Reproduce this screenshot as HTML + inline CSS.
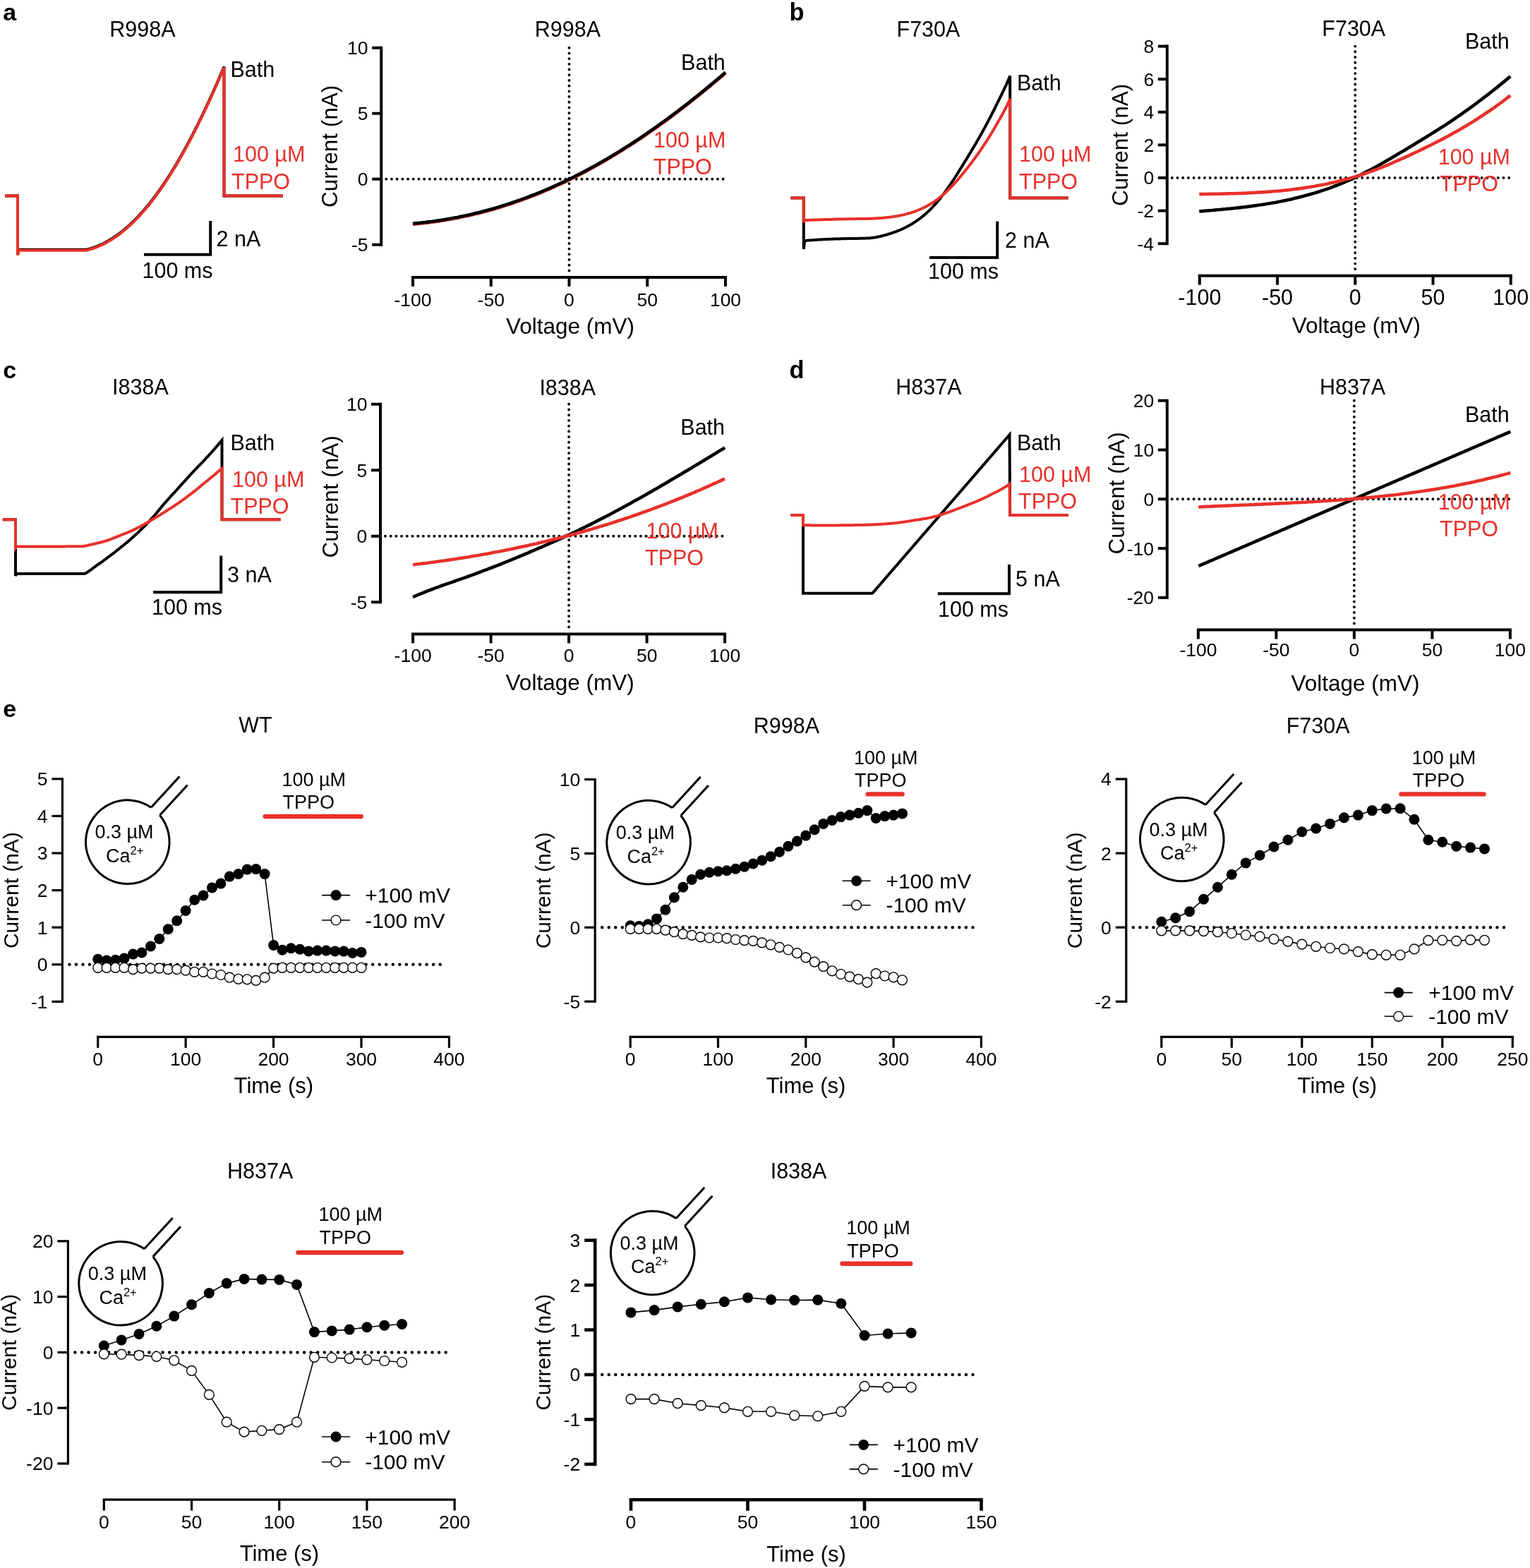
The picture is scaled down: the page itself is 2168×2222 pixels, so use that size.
<!DOCTYPE html>
<html><head><meta charset="utf-8"><title>Figure</title>
<style>html,body{margin:0;padding:0;background:#fff;overflow:hidden;width:2168px;height:2222px;} svg{display:block;}</style></head>
<body><svg width="2168" height="2222" viewBox="0 0 2168 2222" font-family="'Liberation Sans', Arial, Helvetica, sans-serif">
<rect width="2168" height="2222" fill="#fff"/>
<text x="4.2" y="29.2" font-size="34" font-weight="bold">a</text>
<text x="1118.5" y="29.2" font-size="34.5" font-weight="bold">b</text>
<text x="4.2" y="536.2" font-size="34" font-weight="bold">c</text>
<text x="1118.5" y="536.2" font-size="34.5" font-weight="bold">d</text>
<text x="4.2" y="1015.9" font-size="34" font-weight="bold">e</text>
<line x1="547.25" y1="253.75" x2="1027.00" y2="253.75" stroke="#000" stroke-width="3.9" stroke-linecap="round" stroke-dasharray="0 7.7"/>
<line x1="806.50" y1="67.75" x2="806.50" y2="389.00" stroke="#000" stroke-width="3.9" stroke-linecap="round" stroke-dasharray="0 7.7"/>
<line x1="540.25" y1="65.75" x2="540.25" y2="348.75" stroke="#000" stroke-width="4.0" stroke-linecap="butt"/>
<line x1="527.25" y1="67.75" x2="540.25" y2="67.75" stroke="#000" stroke-width="4.0" stroke-linecap="butt"/>
<text x="492.1" y="77.2" font-size="26.5">10</text>
<line x1="527.25" y1="160.75" x2="540.25" y2="160.75" stroke="#000" stroke-width="4.0" stroke-linecap="butt"/>
<text x="506.8" y="170.2" font-size="26.5">5</text>
<line x1="527.25" y1="253.75" x2="540.25" y2="253.75" stroke="#000" stroke-width="4.0" stroke-linecap="butt"/>
<text x="506.8" y="263.1" font-size="26.5">0</text>
<line x1="527.25" y1="346.75" x2="540.25" y2="346.75" stroke="#000" stroke-width="4.0" stroke-linecap="butt"/>
<text x="498.0" y="356.1" font-size="26.5">-5</text>
<line x1="583.00" y1="393.00" x2="1030.00" y2="393.00" stroke="#000" stroke-width="4.0" stroke-linecap="butt"/>
<line x1="585.00" y1="393.00" x2="585.00" y2="406.00" stroke="#000" stroke-width="4.0" stroke-linecap="butt"/>
<text x="558.5" y="434.0" font-size="26.5">-100</text>
<line x1="695.75" y1="393.00" x2="695.75" y2="406.00" stroke="#000" stroke-width="4.0" stroke-linecap="butt"/>
<text x="676.6" y="434.0" font-size="26.5">-50</text>
<line x1="806.50" y1="393.00" x2="806.50" y2="406.00" stroke="#000" stroke-width="4.0" stroke-linecap="butt"/>
<text x="799.1" y="434.0" font-size="26.5">0</text>
<line x1="917.25" y1="393.00" x2="917.25" y2="406.00" stroke="#000" stroke-width="4.0" stroke-linecap="butt"/>
<text x="902.5" y="434.0" font-size="26.5">50</text>
<line x1="1028.00" y1="393.00" x2="1028.00" y2="406.00" stroke="#000" stroke-width="4.0" stroke-linecap="butt"/>
<text x="1005.9" y="434.0" font-size="26.5">100</text>
<text x="717.0" y="472.5" font-size="31.5">Voltage (mV)</text>
<text transform="translate(477.6,207.5) rotate(-90)" x="-86.6" y="0" font-size="31.5">Current (nA)</text>
<text x="757.8" y="52.2" font-size="30.5">R998A</text>
<polyline points="585.0,317.6 588.7,317.2 592.4,316.9 596.2,316.5 599.9,316.1 603.6,315.7 607.3,315.2 611.1,314.8 614.8,314.3 618.5,313.7 622.2,313.2 625.9,312.6 629.7,312.0 633.4,311.4 637.1,310.7 640.8,310.1 644.6,309.4 648.3,308.7 652.0,307.9 655.7,307.1 659.5,306.4 663.2,305.5 666.9,304.7 670.6,303.8 674.3,302.9 678.1,302.0 681.8,301.1 685.5,300.1 689.2,299.1 693.0,298.1 696.7,297.0 700.4,296.0 704.1,294.9 707.8,293.8 711.6,292.6 715.3,291.4 719.0,290.2 722.7,289.0 726.5,287.8 730.2,286.5 733.9,285.2 737.6,283.9 741.4,282.5 745.1,281.2 748.8,279.8 752.5,278.3 756.2,276.9 760.0,275.4 763.7,273.9 767.4,272.4 771.1,270.8 774.9,269.2 778.6,267.6 782.3,266.0 786.0,264.3 789.7,262.6 793.5,260.9 797.2,259.2 800.9,257.4 804.6,255.6 808.4,253.8 812.1,252.0 815.8,250.1 819.5,248.2 823.3,246.3 827.0,244.3 830.7,242.4 834.4,240.4 838.1,238.3 841.9,236.3 845.6,234.2 849.3,232.1 853.0,230.0 856.8,227.8 860.5,225.7 864.2,223.5 867.9,221.2 871.6,219.0 875.4,216.7 879.1,214.4 882.8,212.1 886.5,209.7 890.3,207.4 894.0,205.0 897.7,202.6 901.4,200.1 905.2,197.6 908.9,195.1 912.6,192.6 916.3,190.1 920.0,187.5 923.8,184.9 927.5,182.3 931.2,179.7 934.9,177.0 938.7,174.3 942.4,171.6 946.1,168.9 949.8,166.2 953.5,163.4 957.3,160.6 961.0,157.8 964.7,154.9 968.4,152.1 972.2,149.2 975.9,146.3 979.6,143.3 983.3,140.4 987.1,137.4 990.8,134.4 994.5,131.4 998.2,128.4 1001.9,125.3 1005.7,122.2 1009.4,119.1 1013.1,116.0 1016.8,112.8 1020.6,109.7 1024.3,106.5 1028.0,103.3" fill="none" stroke="#e8302a" stroke-width="5.0" stroke-linejoin="round"/>
<polyline points="585.0,316.8 588.7,316.4 592.4,316.1 596.2,315.7 599.9,315.3 603.6,314.9 607.3,314.4 611.1,314.0 614.8,313.5 618.5,312.9 622.2,312.4 625.9,311.8 629.7,311.2 633.4,310.6 637.1,309.9 640.8,309.3 644.6,308.6 648.3,307.9 652.0,307.1 655.7,306.3 659.5,305.6 663.2,304.7 666.9,303.9 670.6,303.0 674.3,302.1 678.1,301.2 681.8,300.3 685.5,299.3 689.2,298.3 693.0,297.3 696.7,296.2 700.4,295.2 704.1,294.1 707.8,293.0 711.6,291.8 715.3,290.6 719.0,289.4 722.7,288.2 726.5,287.0 730.2,285.7 733.9,284.4 737.6,283.1 741.4,281.7 745.1,280.4 748.8,279.0 752.5,277.5 756.2,276.1 760.0,274.6 763.7,273.1 767.4,271.6 771.1,270.0 774.9,268.4 778.6,266.8 782.3,265.2 786.0,263.5 789.7,261.8 793.5,260.1 797.2,258.4 800.9,256.6 804.6,254.8 808.4,253.0 812.1,251.2 815.8,249.3 819.5,247.4 823.3,245.5 827.0,243.5 830.7,241.6 834.4,239.6 838.1,237.5 841.9,235.5 845.6,233.4 849.3,231.3 853.0,229.2 856.8,227.0 860.5,224.9 864.2,222.7 867.9,220.4 871.6,218.2 875.4,215.9 879.1,213.6 882.8,211.3 886.5,208.9 890.3,206.6 894.0,204.2 897.7,201.8 901.4,199.3 905.2,196.8 908.9,194.3 912.6,191.8 916.3,189.3 920.0,186.7 923.8,184.1 927.5,181.5 931.2,178.9 934.9,176.2 938.7,173.5 942.4,170.8 946.1,168.1 949.8,165.4 953.5,162.6 957.3,159.8 961.0,157.0 964.7,154.1 968.4,151.3 972.2,148.4 975.9,145.5 979.6,142.5 983.3,139.6 987.1,136.6 990.8,133.6 994.5,130.6 998.2,127.6 1001.9,124.5 1005.7,121.4 1009.4,118.3 1013.1,115.2 1016.8,112.0 1020.6,108.9 1024.3,105.7 1028.0,102.5" fill="none" stroke="#000" stroke-width="4.6" stroke-linejoin="round"/>
<text x="965.1" y="99.3" font-size="30.5">Bath</text>
<text x="926.0" y="208.6" font-size="30.5" fill="#e8302a">100 µM</text>
<text x="925.8" y="247.0" font-size="30.5" fill="#e8302a">TPPO</text>
<text x="155.3" y="52.2" font-size="30.5">R998A</text>
<polyline points="7.0,277.5 25.0,277.5 25.0,360.8 26.5,353.8 27.5,353.8 28.5,353.8 29.5,353.8 30.5,353.8 31.5,353.8 32.5,353.8 33.5,353.8 34.5,353.8 35.5,353.8 36.5,353.8 37.5,353.8 38.5,353.8 39.5,353.8 40.5,353.8 41.5,353.8 42.5,353.8 43.5,353.8 44.5,353.8 45.5,353.8 46.5,353.8 47.5,353.8 48.5,353.8 49.5,353.8 50.5,353.8 51.5,353.8 52.5,353.8 53.5,353.8 54.5,353.8 55.5,353.8 56.5,353.8 57.5,353.8 58.5,353.8 59.5,353.8 60.5,353.8 61.5,353.8 62.5,353.8 63.5,353.8 64.5,353.8 65.5,353.8 66.5,353.8 67.5,353.8 68.5,353.8 69.5,353.8 70.5,353.8 71.5,353.8 72.5,353.8 73.5,353.8 74.5,353.8 75.5,353.8 76.5,353.8 77.5,353.8 78.5,353.8 79.5,353.8 80.5,353.8 81.5,353.8 82.5,353.8 83.5,353.8 84.5,353.8 85.5,353.8 86.5,353.8 87.5,353.8 88.5,353.8 89.5,353.8 90.5,353.8 91.5,353.8 92.5,353.8 93.5,353.8 94.5,353.8 95.5,353.8 96.5,353.8 97.5,353.8 98.5,353.8 99.5,353.8 100.5,353.8 101.5,353.8 102.5,353.8 103.5,353.8 104.5,353.8 105.5,353.8 106.5,353.8 107.5,353.8 108.5,353.8 109.5,353.8 110.5,353.8 111.5,353.8 112.5,353.8 113.5,353.8 114.5,353.8 115.5,353.8 116.5,353.8 117.5,353.8 118.5,353.8 119.5,353.8 120.5,353.8 121.5,353.8 122.5,353.8 123.5,353.5 124.5,353.3 125.5,353.0 126.5,352.7 127.5,352.4 128.5,352.2 129.5,351.8 130.5,351.5 131.5,351.2 132.5,350.9 133.5,350.5 134.5,350.2 135.5,349.8 136.5,349.4 137.5,349.0 138.5,348.6 139.5,348.2 140.5,347.8 141.5,347.3 142.5,346.9 143.5,346.4 144.5,346.0 145.5,345.5 146.5,345.0 147.5,344.5 148.5,344.0 149.5,343.4 150.5,342.9 151.5,342.4 152.5,341.8 153.5,341.2 154.5,340.6 155.5,340.0 156.5,339.4 157.5,338.8 158.5,338.2 159.5,337.6 160.5,336.9 161.5,336.3 162.5,335.6 163.5,334.9 164.5,334.2 165.5,333.5 166.5,332.8 167.5,332.1 168.5,331.3 169.5,330.6 170.5,329.8 171.5,329.0 172.5,328.3 173.5,327.5 174.5,326.6 175.5,325.8 176.5,325.0 177.5,324.2 178.5,323.3 179.5,322.4 180.5,321.6 181.5,320.7 182.5,319.8 183.5,318.9 184.5,318.0 185.5,317.0 186.5,316.1 187.5,315.1 188.5,314.1 189.5,313.2 190.5,312.2 191.5,311.2 192.5,310.2 193.5,309.1 194.5,308.1 195.5,307.1 196.5,306.0 197.5,304.9 198.5,303.8 199.5,302.7 200.5,301.6 201.5,300.5 202.5,299.4 203.5,298.2 204.5,297.1 205.5,295.9 206.5,294.7 207.5,293.6 208.5,292.4 209.5,291.1 210.5,289.9 211.5,288.7 212.5,287.4 213.5,286.2 214.5,284.9 215.5,283.6 216.5,282.3 217.5,281.0 218.5,279.7 219.5,278.4 220.5,277.0 221.5,275.7 222.5,274.3 223.5,272.9 224.5,271.5 225.5,270.1 226.5,268.7 227.5,267.3 228.5,265.9 229.5,264.4 230.5,263.0 231.5,261.5 232.5,260.0 233.5,258.5 234.5,257.0 235.5,255.5 236.5,254.0 237.5,252.4 238.5,250.9 239.5,249.3 240.5,247.8 241.5,246.2 242.5,244.6 243.5,243.0 244.5,241.3 245.5,239.7 246.5,238.1 247.5,236.4 248.5,234.8 249.5,233.1 250.5,231.4 251.5,229.7 252.5,228.0 253.5,226.3 254.5,224.6 255.5,222.8 256.5,221.1 257.5,219.3 258.5,217.5 259.5,215.7 260.5,213.9 261.5,212.1 262.5,210.3 263.5,208.5 264.5,206.7 265.5,204.8 266.5,202.9 267.5,201.1 268.5,199.2 269.5,197.3 270.5,195.4 271.5,193.5 272.5,191.6 273.5,189.6 274.5,187.7 275.5,185.7 276.5,183.8 277.5,181.8 278.5,179.8 279.5,177.8 280.5,175.8 281.5,173.8 282.5,171.8 283.5,169.7 284.5,167.7 285.5,165.6 286.5,163.5 287.5,161.5 288.5,159.4 289.5,157.3 290.5,155.2 291.5,153.0 292.5,150.9 293.5,148.8 294.5,146.6 295.5,144.5 296.5,142.3 297.5,140.1 298.5,137.9 299.5,135.7 300.5,133.5 301.5,131.3 302.5,129.1 303.5,126.8 304.5,124.6 305.5,122.3 306.5,120.0 307.5,117.8 308.5,115.5 309.5,113.2 310.5,110.9 311.5,108.6 312.5,106.2 313.5,103.9 314.5,101.6 315.5,99.2 316.5,96.8 317.5,94.5 317.5,277.5 401.0,277.5" fill="none" stroke="#000" stroke-width="4.0" stroke-linejoin="miter"/>
<polyline points="7.0,277.5 25.0,277.5 25.0,361.7 26.5,354.7 27.5,354.7 28.5,354.7 29.5,354.7 30.5,354.7 31.5,354.7 32.5,354.7 33.5,354.7 34.5,354.7 35.5,354.7 36.5,354.7 37.5,354.7 38.5,354.7 39.5,354.7 40.5,354.7 41.5,354.7 42.5,354.7 43.5,354.7 44.5,354.7 45.5,354.7 46.5,354.7 47.5,354.7 48.5,354.7 49.5,354.7 50.5,354.7 51.5,354.7 52.5,354.7 53.5,354.7 54.5,354.7 55.5,354.7 56.5,354.7 57.5,354.7 58.5,354.7 59.5,354.7 60.5,354.7 61.5,354.7 62.5,354.7 63.5,354.7 64.5,354.7 65.5,354.7 66.5,354.7 67.5,354.7 68.5,354.7 69.5,354.7 70.5,354.7 71.5,354.7 72.5,354.7 73.5,354.7 74.5,354.7 75.5,354.7 76.5,354.7 77.5,354.7 78.5,354.7 79.5,354.7 80.5,354.7 81.5,354.7 82.5,354.7 83.5,354.7 84.5,354.7 85.5,354.7 86.5,354.7 87.5,354.7 88.5,354.7 89.5,354.7 90.5,354.7 91.5,354.7 92.5,354.7 93.5,354.7 94.5,354.7 95.5,354.7 96.5,354.7 97.5,354.7 98.5,354.7 99.5,354.7 100.5,354.7 101.5,354.7 102.5,354.7 103.5,354.7 104.5,354.7 105.5,354.7 106.5,354.7 107.5,354.7 108.5,354.7 109.5,354.7 110.5,354.7 111.5,354.7 112.5,354.7 113.5,354.7 114.5,354.7 115.5,354.7 116.5,354.7 117.5,354.7 118.5,354.7 119.5,354.7 120.5,354.7 121.5,354.7 122.5,354.7 123.5,354.5 124.5,354.2 125.5,354.0 126.5,353.7 127.5,353.4 128.5,353.1 129.5,352.8 130.5,352.5 131.5,352.2 132.5,351.8 133.5,351.5 134.5,351.1 135.5,350.8 136.5,350.4 137.5,350.0 138.5,349.6 139.5,349.2 140.5,348.7 141.5,348.3 142.5,347.9 143.5,347.4 144.5,346.9 145.5,346.4 146.5,345.9 147.5,345.4 148.5,344.9 149.5,344.4 150.5,343.9 151.5,343.3 152.5,342.8 153.5,342.2 154.5,341.6 155.5,341.0 156.5,340.4 157.5,339.8 158.5,339.2 159.5,338.5 160.5,337.9 161.5,337.2 162.5,336.6 163.5,335.9 164.5,335.2 165.5,334.5 166.5,333.8 167.5,333.0 168.5,332.3 169.5,331.5 170.5,330.8 171.5,330.0 172.5,329.2 173.5,328.4 174.5,327.6 175.5,326.8 176.5,326.0 177.5,325.1 178.5,324.3 179.5,323.4 180.5,322.5 181.5,321.6 182.5,320.7 183.5,319.8 184.5,318.9 185.5,318.0 186.5,317.0 187.5,316.1 188.5,315.1 189.5,314.1 190.5,313.1 191.5,312.1 192.5,311.1 193.5,310.1 194.5,309.1 195.5,308.0 196.5,307.0 197.5,305.9 198.5,304.8 199.5,303.7 200.5,302.6 201.5,301.5 202.5,300.4 203.5,299.2 204.5,298.1 205.5,296.9 206.5,295.7 207.5,294.5 208.5,293.3 209.5,292.1 210.5,290.9 211.5,289.6 212.5,288.4 213.5,287.1 214.5,285.9 215.5,284.6 216.5,283.3 217.5,282.0 218.5,280.7 219.5,279.3 220.5,278.0 221.5,276.6 222.5,275.3 223.5,273.9 224.5,272.5 225.5,271.1 226.5,269.7 227.5,268.3 228.5,266.8 229.5,265.4 230.5,263.9 231.5,262.5 232.5,261.0 233.5,259.5 234.5,258.0 235.5,256.5 236.5,254.9 237.5,253.4 238.5,251.9 239.5,250.3 240.5,248.7 241.5,247.1 242.5,245.5 243.5,243.9 244.5,242.3 245.5,240.7 246.5,239.0 247.5,237.4 248.5,235.7 249.5,234.1 250.5,232.4 251.5,230.7 252.5,229.0 253.5,227.3 254.5,225.5 255.5,223.8 256.5,222.0 257.5,220.3 258.5,218.5 259.5,216.7 260.5,214.9 261.5,213.1 262.5,211.3 263.5,209.5 264.5,207.6 265.5,205.8 266.5,203.9 267.5,202.0 268.5,200.2 269.5,198.3 270.5,196.4 271.5,194.5 272.5,192.5 273.5,190.6 274.5,188.7 275.5,186.7 276.5,184.7 277.5,182.8 278.5,180.8 279.5,178.8 280.5,176.8 281.5,174.7 282.5,172.7 283.5,170.7 284.5,168.6 285.5,166.6 286.5,164.5 287.5,162.4 288.5,160.3 289.5,158.2 290.5,156.1 291.5,154.0 292.5,151.9 293.5,149.7 294.5,147.6 295.5,145.4 296.5,143.3 297.5,141.1 298.5,138.9 299.5,136.7 300.5,134.5 301.5,132.3 302.5,130.0 303.5,127.8 304.5,125.5 305.5,123.3 306.5,121.0 307.5,118.7 308.5,116.4 309.5,114.2 310.5,111.8 311.5,109.5 312.5,107.2 313.5,104.9 314.5,102.5 315.5,100.2 316.5,97.8 317.5,95.4 317.5,277.5 401.0,277.5" fill="none" stroke="#e8302a" stroke-width="4.0" stroke-linejoin="miter"/>
<text x="326.5" y="109.0" font-size="30.5">Bath</text>
<text x="330.0" y="229.0" font-size="30.5" fill="#e8302a">100 µM</text>
<text x="328.0" y="267.5" font-size="30.5" fill="#e8302a">TPPO</text>
<polyline points="204.0,360.8 298.2,360.8 298.2,313.0" fill="none" stroke="#000" stroke-width="4.0" stroke-linejoin="miter"/>
<text x="306.5" y="348.8" font-size="30.5">2 nA</text>
<text x="201.5" y="393.8" font-size="30.5">100 ms</text>
<line x1="1660.80" y1="252.00" x2="2139.80" y2="252.00" stroke="#000" stroke-width="3.9" stroke-linecap="round" stroke-dasharray="0 7.7"/>
<line x1="1920.30" y1="65.60" x2="1920.30" y2="386.70" stroke="#000" stroke-width="3.9" stroke-linecap="round" stroke-dasharray="0 7.7"/>
<line x1="1653.80" y1="63.60" x2="1653.80" y2="347.20" stroke="#000" stroke-width="4.0" stroke-linecap="butt"/>
<line x1="1640.80" y1="65.60" x2="1653.80" y2="65.60" stroke="#000" stroke-width="4.0" stroke-linecap="butt"/>
<text x="1620.4" y="75.0" font-size="26.5">8</text>
<line x1="1640.80" y1="112.20" x2="1653.80" y2="112.20" stroke="#000" stroke-width="4.0" stroke-linecap="butt"/>
<text x="1620.4" y="121.6" font-size="26.5">6</text>
<line x1="1640.80" y1="158.80" x2="1653.80" y2="158.80" stroke="#000" stroke-width="4.0" stroke-linecap="butt"/>
<text x="1620.4" y="168.2" font-size="26.5">4</text>
<line x1="1640.80" y1="205.40" x2="1653.80" y2="205.40" stroke="#000" stroke-width="4.0" stroke-linecap="butt"/>
<text x="1620.4" y="214.8" font-size="26.5">2</text>
<line x1="1640.80" y1="252.00" x2="1653.80" y2="252.00" stroke="#000" stroke-width="4.0" stroke-linecap="butt"/>
<text x="1620.4" y="261.4" font-size="26.5">0</text>
<line x1="1640.80" y1="298.60" x2="1653.80" y2="298.60" stroke="#000" stroke-width="4.0" stroke-linecap="butt"/>
<text x="1611.5" y="308.0" font-size="26.5">-2</text>
<line x1="1640.80" y1="345.20" x2="1653.80" y2="345.20" stroke="#000" stroke-width="4.0" stroke-linecap="butt"/>
<text x="1611.5" y="354.6" font-size="26.5">-4</text>
<line x1="1697.80" y1="390.70" x2="2142.80" y2="390.70" stroke="#000" stroke-width="4.0" stroke-linecap="butt"/>
<line x1="1699.80" y1="390.70" x2="1699.80" y2="403.70" stroke="#000" stroke-width="4.0" stroke-linecap="butt"/>
<text x="1669.3" y="432.0" font-size="30.5">-100</text>
<line x1="1810.05" y1="390.70" x2="1810.05" y2="403.70" stroke="#000" stroke-width="4.0" stroke-linecap="butt"/>
<text x="1788.0" y="432.0" font-size="30.5">-50</text>
<line x1="1920.30" y1="390.70" x2="1920.30" y2="403.70" stroke="#000" stroke-width="4.0" stroke-linecap="butt"/>
<text x="1911.8" y="432.0" font-size="30.5">0</text>
<line x1="2030.55" y1="390.70" x2="2030.55" y2="403.70" stroke="#000" stroke-width="4.0" stroke-linecap="butt"/>
<text x="2013.6" y="432.0" font-size="30.5">50</text>
<line x1="2140.80" y1="390.70" x2="2140.80" y2="403.70" stroke="#000" stroke-width="4.0" stroke-linecap="butt"/>
<text x="2115.3" y="432.0" font-size="30.5">100</text>
<text x="1830.8" y="472.0" font-size="31.5">Voltage (mV)</text>
<text transform="translate(1598.4,205.5) rotate(-90)" x="-86.6" y="0" font-size="31.5">Current (nA)</text>
<text x="1873.3" y="51.1" font-size="30.5">F730A</text>
<polyline points="1699.3,299.5 1703.0,299.2 1706.7,298.9 1710.4,298.6 1714.1,298.3 1717.8,298.0 1721.5,297.6 1725.2,297.3 1728.9,297.0 1732.7,296.6 1736.4,296.3 1740.1,295.9 1743.8,295.6 1747.5,295.2 1751.2,294.8 1754.9,294.4 1758.6,293.9 1762.3,293.5 1766.0,293.1 1769.7,292.6 1773.4,292.1 1777.1,291.6 1780.8,291.1 1784.5,290.5 1788.2,290.0 1791.9,289.4 1795.7,288.8 1799.4,288.2 1803.1,287.5 1806.8,286.9 1810.5,286.2 1814.2,285.5 1817.9,284.7 1821.6,284.0 1825.3,283.2 1829.0,282.4 1832.7,281.5 1836.4,280.6 1840.1,279.7 1843.8,278.8 1847.5,277.8 1851.2,276.8 1854.9,275.8 1858.7,274.7 1862.4,273.6 1866.1,272.5 1869.8,271.3 1873.5,270.1 1877.2,268.9 1880.9,267.6 1884.6,266.3 1888.3,264.9 1892.0,263.5 1895.7,262.1 1899.4,260.6 1903.1,259.1 1906.8,257.5 1910.5,255.9 1914.2,254.3 1917.9,252.6 1921.7,250.8 1925.4,249.0 1929.1,247.2 1932.8,245.3 1936.5,243.4 1940.2,241.5 1943.9,239.5 1947.6,237.5 1951.3,235.5 1955.0,233.4 1958.7,231.3 1962.4,229.2 1966.1,227.0 1969.8,224.9 1973.5,222.7 1977.2,220.5 1980.9,218.3 1984.7,216.1 1988.4,213.9 1992.1,211.7 1995.8,209.4 1999.5,207.2 2003.2,205.0 2006.9,202.7 2010.6,200.5 2014.3,198.2 2018.0,196.0 2021.7,193.7 2025.4,191.4 2029.1,189.1 2032.8,186.8 2036.5,184.5 2040.2,182.1 2043.9,179.8 2047.7,177.3 2051.4,174.9 2055.1,172.5 2058.8,170.0 2062.5,167.4 2066.2,164.9 2069.9,162.3 2073.6,159.7 2077.3,157.1 2081.0,154.4 2084.7,151.8 2088.4,149.1 2092.1,146.3 2095.8,143.5 2099.5,140.8 2103.2,137.9 2106.9,135.1 2110.7,132.2 2114.4,129.3 2118.1,126.4 2121.8,123.4 2125.5,120.4 2129.2,117.4 2132.9,114.4 2136.6,111.3 2140.3,108.2" fill="none" stroke="#000" stroke-width="4.6" stroke-linejoin="round"/>
<polyline points="1699.3,275.1 1703.0,275.1 1706.7,275.0 1710.4,275.0 1714.1,274.9 1717.8,274.9 1721.5,274.8 1725.2,274.8 1728.9,274.7 1732.7,274.6 1736.4,274.5 1740.1,274.4 1743.8,274.3 1747.5,274.2 1751.2,274.1 1754.9,274.0 1758.6,273.9 1762.3,273.7 1766.0,273.6 1769.7,273.4 1773.4,273.2 1777.1,273.0 1780.8,272.8 1784.5,272.6 1788.2,272.4 1791.9,272.2 1795.7,271.9 1799.4,271.6 1803.1,271.3 1806.8,271.0 1810.5,270.7 1814.2,270.4 1817.9,270.0 1821.6,269.6 1825.3,269.2 1829.0,268.8 1832.7,268.3 1836.4,267.9 1840.1,267.4 1843.8,266.9 1847.5,266.4 1851.2,265.8 1854.9,265.2 1858.7,264.6 1862.4,264.0 1866.1,263.3 1869.8,262.6 1873.5,261.9 1877.2,261.2 1880.9,260.4 1884.6,259.6 1888.3,258.8 1892.0,258.0 1895.7,257.1 1899.4,256.2 1903.1,255.2 1906.8,254.2 1910.5,253.2 1914.2,252.2 1917.9,251.1 1921.7,250.0 1925.4,248.9 1929.1,247.7 1932.8,246.5 1936.5,245.2 1940.2,243.9 1943.9,242.6 1947.6,241.2 1951.3,239.8 1955.0,238.4 1958.7,236.9 1962.4,235.4 1966.1,233.8 1969.8,232.3 1973.5,230.7 1977.2,229.0 1980.9,227.4 1984.7,225.7 1988.4,224.1 1992.1,222.4 1995.8,220.7 1999.5,218.9 2003.2,217.2 2006.9,215.5 2010.6,213.7 2014.3,211.9 2018.0,210.1 2021.7,208.3 2025.4,206.5 2029.1,204.7 2032.8,202.8 2036.5,200.9 2040.2,199.0 2043.9,197.1 2047.7,195.1 2051.4,193.2 2055.1,191.1 2058.8,189.1 2062.5,187.0 2066.2,184.9 2069.9,182.8 2073.6,180.6 2077.3,178.4 2081.0,176.2 2084.7,173.9 2088.4,171.6 2092.1,169.3 2095.8,166.9 2099.5,164.5 2103.2,162.0 2106.9,159.5 2110.7,157.0 2114.4,154.4 2118.1,151.8 2121.8,149.2 2125.5,146.5 2129.2,143.8 2132.9,141.0 2136.6,138.1 2140.3,135.3" fill="none" stroke="#e8302a" stroke-width="4.6" stroke-linejoin="round"/>
<text x="2076.0" y="69.3" font-size="30.5">Bath</text>
<text x="2037.7" y="232.5" font-size="30.5" fill="#e8302a">100 µM</text>
<text x="2040.0" y="270.5" font-size="30.5" fill="#e8302a">TPPO</text>
<text x="1270.5" y="52.2" font-size="30.5">F730A</text>
<polyline points="1120.5,280.5 1138.8,280.5 1138.8,353.0 1140.2,341.0 1141.2,340.9 1142.2,340.9 1143.2,340.8 1144.2,340.7 1145.2,340.7 1146.2,340.6 1147.2,340.5 1148.2,340.5 1149.2,340.4 1150.2,340.3 1151.2,340.3 1152.2,340.2 1153.2,340.1 1154.2,340.0 1155.2,340.0 1156.2,339.9 1157.2,339.8 1158.2,339.8 1159.2,339.7 1160.2,339.6 1161.2,339.6 1162.2,339.5 1163.2,339.5 1164.2,339.4 1165.2,339.3 1166.2,339.3 1167.2,339.2 1168.2,339.2 1169.2,339.1 1170.2,339.1 1171.2,339.0 1172.2,339.0 1173.2,339.0 1174.2,338.9 1175.2,338.9 1176.2,338.8 1177.2,338.8 1178.2,338.8 1179.2,338.7 1180.2,338.7 1181.2,338.6 1182.2,338.6 1183.2,338.6 1184.2,338.5 1185.2,338.5 1186.2,338.5 1187.2,338.4 1188.2,338.4 1189.2,338.4 1190.2,338.4 1191.2,338.3 1192.2,338.3 1193.2,338.3 1194.2,338.3 1195.2,338.2 1196.2,338.2 1197.2,338.2 1198.2,338.2 1199.2,338.2 1200.2,338.1 1201.2,338.1 1202.2,338.1 1203.2,338.1 1204.2,338.1 1205.2,338.0 1206.2,338.0 1207.2,338.0 1208.2,338.0 1209.2,338.0 1210.2,338.0 1211.2,337.9 1212.2,337.9 1213.2,337.9 1214.2,337.9 1215.2,337.9 1216.2,337.9 1217.2,337.9 1218.2,337.8 1219.2,337.8 1220.2,337.8 1221.2,337.8 1222.2,337.8 1223.2,337.8 1224.2,337.7 1225.2,337.7 1226.2,337.7 1227.2,337.6 1228.2,337.6 1229.2,337.5 1230.2,337.5 1231.2,337.4 1232.2,337.4 1233.2,337.3 1234.2,337.2 1235.2,337.1 1236.2,337.0 1237.2,336.8 1238.2,336.7 1239.2,336.5 1240.2,336.4 1241.2,336.2 1242.2,336.0 1243.2,335.8 1244.2,335.6 1245.2,335.4 1246.2,335.2 1247.2,335.0 1248.2,334.7 1249.2,334.5 1250.2,334.2 1251.2,334.0 1252.2,333.7 1253.2,333.4 1254.2,333.2 1255.2,332.9 1256.2,332.6 1257.2,332.3 1258.2,332.0 1259.2,331.7 1260.2,331.4 1261.2,331.1 1262.2,330.7 1263.2,330.4 1264.2,330.1 1265.2,329.7 1266.2,329.4 1267.2,329.0 1268.2,328.7 1269.2,328.3 1270.2,327.9 1271.2,327.5 1272.2,327.2 1273.2,326.8 1274.2,326.3 1275.2,325.9 1276.2,325.5 1277.2,325.1 1278.2,324.6 1279.2,324.2 1280.2,323.7 1281.2,323.2 1282.2,322.7 1283.2,322.2 1284.2,321.7 1285.2,321.2 1286.2,320.7 1287.2,320.1 1288.2,319.6 1289.2,319.0 1290.2,318.5 1291.2,317.9 1292.2,317.3 1293.2,316.7 1294.2,316.0 1295.2,315.4 1296.2,314.7 1297.2,314.1 1298.2,313.4 1299.2,312.7 1300.2,312.0 1301.2,311.3 1302.2,310.6 1303.2,309.8 1304.2,309.1 1305.2,308.3 1306.2,307.5 1307.2,306.7 1308.2,305.9 1309.2,305.1 1310.2,304.2 1311.2,303.3 1312.2,302.5 1313.2,301.6 1314.2,300.6 1315.2,299.7 1316.2,298.8 1317.2,297.8 1318.2,296.8 1319.2,295.8 1320.2,294.8 1321.2,293.8 1322.2,292.7 1323.2,291.6 1324.2,290.5 1325.2,289.4 1326.2,288.3 1327.2,287.2 1328.2,286.0 1329.2,284.8 1330.2,283.6 1331.2,282.4 1332.2,281.2 1333.2,279.9 1334.2,278.6 1335.2,277.3 1336.2,276.0 1337.2,274.7 1338.2,273.4 1339.2,272.0 1340.2,270.6 1341.2,269.2 1342.2,267.8 1343.2,266.4 1344.2,265.0 1345.2,263.5 1346.2,262.1 1347.2,260.6 1348.2,259.1 1349.2,257.6 1350.2,256.1 1351.2,254.6 1352.2,253.0 1353.2,251.5 1354.2,249.9 1355.2,248.4 1356.2,246.8 1357.2,245.2 1358.2,243.6 1359.2,242.0 1360.2,240.4 1361.2,238.8 1362.2,237.2 1363.2,235.6 1364.2,234.0 1365.2,232.4 1366.2,230.8 1367.2,229.1 1368.2,227.5 1369.2,225.9 1370.2,224.2 1371.2,222.6 1372.2,220.9 1373.2,219.3 1374.2,217.6 1375.2,216.0 1376.2,214.3 1377.2,212.6 1378.2,210.9 1379.2,209.3 1380.2,207.6 1381.2,205.9 1382.2,204.2 1383.2,202.5 1384.2,200.7 1385.2,199.0 1386.2,197.3 1387.2,195.5 1388.2,193.8 1389.2,192.0 1390.2,190.2 1391.2,188.4 1392.2,186.6 1393.2,184.8 1394.2,183.0 1395.2,181.2 1396.2,179.3 1397.2,177.5 1398.2,175.6 1399.2,173.7 1400.2,171.8 1401.2,169.9 1402.2,168.0 1403.2,166.1 1404.2,164.1 1405.2,162.2 1406.2,160.2 1407.2,158.2 1408.2,156.3 1409.2,154.3 1410.2,152.2 1411.2,150.2 1412.2,148.2 1413.2,146.2 1414.2,144.2 1415.2,142.2 1416.2,140.1 1417.2,138.1 1418.2,136.0 1419.2,134.0 1420.2,131.9 1421.2,129.9 1422.2,127.8 1423.2,125.7 1424.2,123.6 1425.2,121.5 1426.2,119.3 1427.2,117.1 1428.2,114.8 1429.2,112.5 1430.2,110.0 1431.2,107.4 1431.2,280.5 1513.8,280.5" fill="none" stroke="#000" stroke-width="4.0" stroke-linejoin="miter"/>
<polyline points="1120.5,280.5 1138.8,280.5 1138.8,315.0 1140.2,312.0 1141.2,312.0 1142.2,312.0 1143.2,312.0 1144.2,311.9 1145.2,311.9 1146.2,311.9 1147.2,311.8 1148.2,311.8 1149.2,311.8 1150.2,311.7 1151.2,311.7 1152.2,311.7 1153.2,311.6 1154.2,311.6 1155.2,311.6 1156.2,311.5 1157.2,311.5 1158.2,311.4 1159.2,311.4 1160.2,311.4 1161.2,311.3 1162.2,311.3 1163.2,311.3 1164.2,311.2 1165.2,311.2 1166.2,311.2 1167.2,311.1 1168.2,311.1 1169.2,311.1 1170.2,311.1 1171.2,311.0 1172.2,311.0 1173.2,311.0 1174.2,310.9 1175.2,310.9 1176.2,310.9 1177.2,310.9 1178.2,310.8 1179.2,310.8 1180.2,310.8 1181.2,310.8 1182.2,310.7 1183.2,310.7 1184.2,310.7 1185.2,310.7 1186.2,310.6 1187.2,310.6 1188.2,310.6 1189.2,310.6 1190.2,310.5 1191.2,310.5 1192.2,310.5 1193.2,310.5 1194.2,310.5 1195.2,310.4 1196.2,310.4 1197.2,310.4 1198.2,310.4 1199.2,310.4 1200.2,310.3 1201.2,310.3 1202.2,310.3 1203.2,310.3 1204.2,310.3 1205.2,310.3 1206.2,310.2 1207.2,310.2 1208.2,310.2 1209.2,310.2 1210.2,310.2 1211.2,310.2 1212.2,310.1 1213.2,310.1 1214.2,310.1 1215.2,310.1 1216.2,310.1 1217.2,310.1 1218.2,310.1 1219.2,310.0 1220.2,310.0 1221.2,310.0 1222.2,310.0 1223.2,310.0 1224.2,310.0 1225.2,310.0 1226.2,309.9 1227.2,309.9 1228.2,309.9 1229.2,309.9 1230.2,309.9 1231.2,309.8 1232.2,309.8 1233.2,309.8 1234.2,309.7 1235.2,309.7 1236.2,309.7 1237.2,309.6 1238.2,309.6 1239.2,309.5 1240.2,309.5 1241.2,309.4 1242.2,309.4 1243.2,309.3 1244.2,309.3 1245.2,309.2 1246.2,309.1 1247.2,309.0 1248.2,309.0 1249.2,308.9 1250.2,308.8 1251.2,308.7 1252.2,308.6 1253.2,308.5 1254.2,308.4 1255.2,308.3 1256.2,308.2 1257.2,308.1 1258.2,308.0 1259.2,307.9 1260.2,307.8 1261.2,307.7 1262.2,307.5 1263.2,307.4 1264.2,307.3 1265.2,307.1 1266.2,307.0 1267.2,306.8 1268.2,306.7 1269.2,306.5 1270.2,306.4 1271.2,306.2 1272.2,306.0 1273.2,305.8 1274.2,305.6 1275.2,305.4 1276.2,305.2 1277.2,305.0 1278.2,304.8 1279.2,304.6 1280.2,304.4 1281.2,304.1 1282.2,303.9 1283.2,303.6 1284.2,303.4 1285.2,303.1 1286.2,302.8 1287.2,302.5 1288.2,302.3 1289.2,302.0 1290.2,301.7 1291.2,301.3 1292.2,301.0 1293.2,300.7 1294.2,300.4 1295.2,300.0 1296.2,299.7 1297.2,299.3 1298.2,298.9 1299.2,298.5 1300.2,298.1 1301.2,297.7 1302.2,297.3 1303.2,296.9 1304.2,296.5 1305.2,296.0 1306.2,295.6 1307.2,295.1 1308.2,294.6 1309.2,294.2 1310.2,293.7 1311.2,293.2 1312.2,292.6 1313.2,292.1 1314.2,291.5 1315.2,291.0 1316.2,290.4 1317.2,289.8 1318.2,289.2 1319.2,288.6 1320.2,288.0 1321.2,287.4 1322.2,286.7 1323.2,286.1 1324.2,285.4 1325.2,284.7 1326.2,284.0 1327.2,283.3 1328.2,282.5 1329.2,281.8 1330.2,281.0 1331.2,280.2 1332.2,279.4 1333.2,278.6 1334.2,277.8 1335.2,277.0 1336.2,276.1 1337.2,275.2 1338.2,274.4 1339.2,273.5 1340.2,272.5 1341.2,271.6 1342.2,270.7 1343.2,269.7 1344.2,268.7 1345.2,267.7 1346.2,266.7 1347.2,265.7 1348.2,264.6 1349.2,263.6 1350.2,262.5 1351.2,261.4 1352.2,260.3 1353.2,259.2 1354.2,258.1 1355.2,257.0 1356.2,255.8 1357.2,254.7 1358.2,253.5 1359.2,252.3 1360.2,251.1 1361.2,249.9 1362.2,248.7 1363.2,247.5 1364.2,246.3 1365.2,245.1 1366.2,243.8 1367.2,242.6 1368.2,241.3 1369.2,240.1 1370.2,238.8 1371.2,237.5 1372.2,236.2 1373.2,234.9 1374.2,233.6 1375.2,232.3 1376.2,231.0 1377.2,229.7 1378.2,228.4 1379.2,227.0 1380.2,225.7 1381.2,224.3 1382.2,223.0 1383.2,221.6 1384.2,220.2 1385.2,218.8 1386.2,217.4 1387.2,216.0 1388.2,214.6 1389.2,213.1 1390.2,211.7 1391.2,210.2 1392.2,208.7 1393.2,207.2 1394.2,205.7 1395.2,204.2 1396.2,202.7 1397.2,201.2 1398.2,199.6 1399.2,198.0 1400.2,196.5 1401.2,194.9 1402.2,193.3 1403.2,191.6 1404.2,190.0 1405.2,188.3 1406.2,186.7 1407.2,185.0 1408.2,183.3 1409.2,181.6 1410.2,179.9 1411.2,178.1 1412.2,176.4 1413.2,174.6 1414.2,172.9 1415.2,171.1 1416.2,169.4 1417.2,167.6 1418.2,165.8 1419.2,164.0 1420.2,162.2 1421.2,160.4 1422.2,158.5 1423.2,156.7 1424.2,154.8 1425.2,152.9 1426.2,150.9 1427.2,148.9 1428.2,146.8 1429.2,144.6 1430.2,142.4 1431.2,140.0 1431.2,280.5 1513.8,280.5" fill="none" stroke="#e8302a" stroke-width="4.0" stroke-linejoin="miter"/>
<text x="1441.0" y="128.0" font-size="30.5">Bath</text>
<text x="1444.0" y="229.0" font-size="30.5" fill="#e8302a">100 µM</text>
<text x="1444.0" y="267.5" font-size="30.5" fill="#e8302a">TPPO</text>
<polyline points="1317.0,365.0 1413.2,365.0 1413.2,313.8" fill="none" stroke="#000" stroke-width="4.0" stroke-linejoin="miter"/>
<text x="1424.0" y="351.0" font-size="30.5">2 nA</text>
<text x="1315.0" y="395.0" font-size="30.5">100 ms</text>
<line x1="546.00" y1="759.80" x2="1026.10" y2="759.80" stroke="#000" stroke-width="3.9" stroke-linecap="round" stroke-dasharray="0 7.7"/>
<line x1="806.10" y1="572.80" x2="806.10" y2="894.50" stroke="#000" stroke-width="3.9" stroke-linecap="round" stroke-dasharray="0 7.7"/>
<line x1="539.00" y1="570.80" x2="539.00" y2="855.30" stroke="#000" stroke-width="4.0" stroke-linecap="butt"/>
<line x1="526.00" y1="572.80" x2="539.00" y2="572.80" stroke="#000" stroke-width="4.0" stroke-linecap="butt"/>
<text x="490.9" y="582.2" font-size="26.5">10</text>
<line x1="526.00" y1="666.30" x2="539.00" y2="666.30" stroke="#000" stroke-width="4.0" stroke-linecap="butt"/>
<text x="505.6" y="675.7" font-size="26.5">5</text>
<line x1="526.00" y1="759.80" x2="539.00" y2="759.80" stroke="#000" stroke-width="4.0" stroke-linecap="butt"/>
<text x="505.6" y="769.2" font-size="26.5">0</text>
<line x1="526.00" y1="853.30" x2="539.00" y2="853.30" stroke="#000" stroke-width="4.0" stroke-linecap="butt"/>
<text x="496.7" y="862.7" font-size="26.5">-5</text>
<line x1="583.10" y1="898.50" x2="1029.10" y2="898.50" stroke="#000" stroke-width="4.0" stroke-linecap="butt"/>
<line x1="585.10" y1="898.50" x2="585.10" y2="911.50" stroke="#000" stroke-width="4.0" stroke-linecap="butt"/>
<text x="558.6" y="938.0" font-size="26.5">-100</text>
<line x1="695.60" y1="898.50" x2="695.60" y2="911.50" stroke="#000" stroke-width="4.0" stroke-linecap="butt"/>
<text x="676.5" y="938.0" font-size="26.5">-50</text>
<line x1="806.10" y1="898.50" x2="806.10" y2="911.50" stroke="#000" stroke-width="4.0" stroke-linecap="butt"/>
<text x="798.7" y="938.0" font-size="26.5">0</text>
<line x1="916.60" y1="898.50" x2="916.60" y2="911.50" stroke="#000" stroke-width="4.0" stroke-linecap="butt"/>
<text x="901.9" y="938.0" font-size="26.5">50</text>
<line x1="1027.10" y1="898.50" x2="1027.10" y2="911.50" stroke="#000" stroke-width="4.0" stroke-linecap="butt"/>
<text x="1005.0" y="938.0" font-size="26.5">100</text>
<text x="716.6" y="977.5" font-size="31.5">Voltage (mV)</text>
<text transform="translate(478.6,703.9) rotate(-90)" x="-86.6" y="0" font-size="31.5">Current (nA)</text>
<text x="764.4" y="559.6" font-size="30.5">I838A</text>
<polyline points="585.1,846.1 588.8,844.5 592.5,842.9 596.2,841.3 600.0,839.8 603.7,838.4 607.4,836.9 611.1,835.5 614.8,834.1 618.5,832.7 622.2,831.4 626.0,830.0 629.7,828.7 633.4,827.4 637.1,826.1 640.8,824.8 644.5,823.5 648.2,822.2 652.0,820.9 655.7,819.6 659.4,818.3 663.1,817.0 666.8,815.6 670.5,814.3 674.2,812.9 678.0,811.5 681.7,810.1 685.4,808.7 689.1,807.3 692.8,805.9 696.5,804.5 700.2,803.0 704.0,801.6 707.7,800.1 711.4,798.6 715.1,797.1 718.8,795.6 722.5,794.1 726.2,792.6 730.0,791.1 733.7,789.5 737.4,788.0 741.1,786.4 744.8,784.8 748.5,783.3 752.2,781.7 756.0,780.1 759.7,778.5 763.4,776.9 767.1,775.3 770.8,773.7 774.5,772.1 778.2,770.4 782.0,768.8 785.7,767.1 789.4,765.5 793.1,763.8 796.8,762.1 800.5,760.4 804.2,758.7 808.0,757.0 811.7,755.2 815.4,753.5 819.1,751.7 822.8,749.9 826.5,748.1 830.2,746.3 834.0,744.4 837.7,742.6 841.4,740.7 845.1,738.8 848.8,736.9 852.5,735.0 856.2,733.1 860.0,731.2 863.7,729.2 867.4,727.2 871.1,725.3 874.8,723.3 878.5,721.3 882.2,719.3 886.0,717.2 889.7,715.2 893.4,713.2 897.1,711.1 900.8,709.0 904.5,707.0 908.2,704.9 912.0,702.8 915.7,700.7 919.4,698.6 923.1,696.4 926.8,694.3 930.5,692.2 934.2,690.0 938.0,687.8 941.7,685.7 945.4,683.5 949.1,681.3 952.8,679.1 956.5,677.0 960.2,674.8 964.0,672.6 967.7,670.3 971.4,668.1 975.1,665.9 978.8,663.7 982.5,661.4 986.2,659.2 990.0,657.0 993.7,654.7 997.4,652.5 1001.1,650.2 1004.8,648.0 1008.5,645.7 1012.2,643.5 1016.0,641.2 1019.7,638.9 1023.4,636.7 1027.1,634.4" fill="none" stroke="#000" stroke-width="4.6" stroke-linejoin="round"/>
<polyline points="585.1,800.2 588.8,799.8 592.5,799.3 596.2,798.9 600.0,798.4 603.7,798.0 607.4,797.5 611.1,797.0 614.8,796.5 618.5,796.0 622.2,795.5 626.0,795.0 629.7,794.5 633.4,793.9 637.1,793.4 640.8,792.8 644.5,792.3 648.2,791.7 652.0,791.1 655.7,790.6 659.4,790.0 663.1,789.4 666.8,788.8 670.5,788.1 674.2,787.5 678.0,786.9 681.7,786.2 685.4,785.6 689.1,784.9 692.8,784.2 696.5,783.5 700.2,782.8 704.0,782.1 707.7,781.4 711.4,780.7 715.1,780.0 718.8,779.2 722.5,778.5 726.2,777.7 730.0,776.9 733.7,776.1 737.4,775.3 741.1,774.5 744.8,773.7 748.5,772.9 752.2,772.1 756.0,771.2 759.7,770.4 763.4,769.5 767.1,768.6 770.8,767.8 774.5,766.9 778.2,765.9 782.0,765.0 785.7,764.1 789.4,763.2 793.1,762.2 796.8,761.3 800.5,760.3 804.2,759.3 808.0,758.3 811.7,757.3 815.4,756.3 819.1,755.3 822.8,754.2 826.5,753.2 830.2,752.1 834.0,751.0 837.7,750.0 841.4,748.9 845.1,747.8 848.8,746.6 852.5,745.5 856.2,744.4 860.0,743.2 863.7,742.1 867.4,740.9 871.1,739.7 874.8,738.5 878.5,737.3 882.2,736.1 886.0,734.8 889.7,733.6 893.4,732.3 897.1,731.0 900.8,729.8 904.5,728.5 908.2,727.1 912.0,725.8 915.7,724.5 919.4,723.1 923.1,721.8 926.8,720.4 930.5,719.0 934.2,717.6 938.0,716.2 941.7,714.8 945.4,713.4 949.1,711.9 952.8,710.4 956.5,709.0 960.2,707.5 964.0,706.0 967.7,704.5 971.4,702.9 975.1,701.4 978.8,699.8 982.5,698.3 986.2,696.7 990.0,695.1 993.7,693.5 997.4,691.8 1001.1,690.2 1004.8,688.6 1008.5,686.9 1012.2,685.2 1016.0,683.5 1019.7,681.8 1023.4,680.1 1027.1,678.4" fill="none" stroke="#e8302a" stroke-width="4.6" stroke-linejoin="round"/>
<text x="964.3" y="615.7" font-size="30.5">Bath</text>
<text x="915.6" y="762.7" font-size="30.5" fill="#e8302a">100 µM</text>
<text x="914.0" y="801.0" font-size="30.5" fill="#e8302a">TPPO</text>
<text x="159.1" y="559.0" font-size="30.5">I838A</text>
<polyline points="3.8,736.2 22.0,736.2 22.0,816.0 23.5,813.0 24.5,813.0 25.5,813.0 26.5,813.0 27.5,813.0 28.5,813.0 29.5,813.0 30.5,813.0 31.5,813.0 32.5,813.0 33.5,813.0 34.5,813.0 35.5,813.0 36.5,813.0 37.5,813.0 38.5,813.0 39.5,813.0 40.5,813.0 41.5,813.0 42.5,813.0 43.5,813.0 44.5,813.0 45.5,813.0 46.5,813.0 47.5,813.0 48.5,813.0 49.5,813.0 50.5,813.0 51.5,813.0 52.5,813.0 53.5,813.0 54.5,813.0 55.5,813.0 56.5,813.0 57.5,813.0 58.5,813.0 59.5,813.0 60.5,813.0 61.5,813.0 62.5,813.0 63.5,813.0 64.5,813.0 65.5,813.0 66.5,813.0 67.5,813.0 68.5,813.0 69.5,813.0 70.5,813.0 71.5,813.0 72.5,813.0 73.5,813.0 74.5,813.0 75.5,813.0 76.5,813.0 77.5,813.0 78.5,813.0 79.5,813.0 80.5,813.0 81.5,813.0 82.5,813.0 83.5,813.0 84.5,813.0 85.5,813.0 86.5,813.0 87.5,813.0 88.5,813.0 89.5,813.0 90.5,813.0 91.5,813.0 92.5,813.0 93.5,813.0 94.5,813.0 95.5,813.0 96.5,813.0 97.5,813.0 98.5,813.0 99.5,813.0 100.5,813.0 101.5,813.0 102.5,813.0 103.5,813.0 104.5,813.0 105.5,813.0 106.5,813.0 107.5,813.0 108.5,813.0 109.5,813.0 110.5,813.0 111.5,813.0 112.5,813.0 113.5,813.0 114.5,813.0 115.5,813.0 116.5,813.0 117.5,813.0 118.5,813.0 119.5,813.0 120.5,812.8 121.5,812.4 122.5,811.8 123.5,811.1 124.5,810.4 125.5,809.6 126.5,809.0 127.5,808.3 128.5,807.6 129.5,806.9 130.5,806.1 131.5,805.4 132.5,804.6 133.5,803.8 134.5,803.1 135.5,802.4 136.5,801.6 137.5,800.9 138.5,800.2 139.5,799.5 140.5,798.9 141.5,798.2 142.5,797.5 143.5,796.8 144.5,796.1 145.5,795.4 146.5,794.7 147.5,793.9 148.5,793.2 149.5,792.5 150.5,791.7 151.5,791.0 152.5,790.2 153.5,789.5 154.5,788.7 155.5,788.0 156.5,787.2 157.5,786.4 158.5,785.7 159.5,784.9 160.5,784.1 161.5,783.3 162.5,782.6 163.5,781.8 164.5,781.0 165.5,780.2 166.5,779.4 167.5,778.6 168.5,777.8 169.5,777.0 170.5,776.2 171.5,775.4 172.5,774.6 173.5,773.8 174.5,773.0 175.5,772.2 176.5,771.4 177.5,770.5 178.5,769.7 179.5,768.9 180.5,768.1 181.5,767.2 182.5,766.4 183.5,765.5 184.5,764.7 185.5,763.8 186.5,762.9 187.5,762.0 188.5,761.2 189.5,760.2 190.5,759.3 191.5,758.4 192.5,757.5 193.5,756.6 194.5,755.6 195.5,754.7 196.5,753.7 197.5,752.8 198.5,751.8 199.5,750.8 200.5,749.8 201.5,748.9 202.5,747.9 203.5,746.9 204.5,745.8 205.5,744.8 206.5,743.8 207.5,742.8 208.5,741.7 209.5,740.7 210.5,739.6 211.5,738.6 212.5,737.5 213.5,736.4 214.5,735.4 215.5,734.3 216.5,733.2 217.5,732.0 218.5,730.9 219.5,729.7 220.5,728.5 221.5,727.3 222.5,726.1 223.5,724.9 224.5,723.7 225.5,722.5 226.5,721.3 227.5,720.0 228.5,718.8 229.5,717.6 230.5,716.4 231.5,715.2 232.5,714.1 233.5,712.9 234.5,711.8 235.5,710.7 236.5,709.5 237.5,708.4 238.5,707.3 239.5,706.2 240.5,705.1 241.5,704.0 242.5,702.8 243.5,701.7 244.5,700.6 245.5,699.5 246.5,698.5 247.5,697.4 248.5,696.3 249.5,695.2 250.5,694.1 251.5,693.0 252.5,691.8 253.5,690.7 254.5,689.6 255.5,688.5 256.5,687.4 257.5,686.3 258.5,685.2 259.5,684.1 260.5,683.0 261.5,681.9 262.5,680.8 263.5,679.7 264.5,678.6 265.5,677.5 266.5,676.4 267.5,675.3 268.5,674.2 269.5,673.1 270.5,672.0 271.5,670.9 272.5,669.8 273.5,668.8 274.5,667.7 275.5,666.6 276.5,665.6 277.5,664.6 278.5,663.5 279.5,662.5 280.5,661.4 281.5,660.4 282.5,659.4 283.5,658.4 284.5,657.3 285.5,656.3 286.5,655.3 287.5,654.2 288.5,653.2 289.5,652.1 290.5,651.1 291.5,650.0 292.5,648.9 293.5,647.8 294.5,646.8 295.5,645.7 296.5,644.5 297.5,643.4 298.5,642.3 299.5,641.2 300.5,640.1 301.5,638.9 302.5,637.8 303.5,636.7 304.5,635.5 305.5,634.4 306.5,633.2 307.5,632.1 308.5,630.9 309.5,629.7 310.5,628.5 311.5,627.4 312.5,626.2 313.5,625.0 314.5,623.8 314.5,736.2 397.5,736.2" fill="none" stroke="#000" stroke-width="4.0" stroke-linejoin="miter"/>
<polyline points="3.8,736.2 22.0,736.2 22.0,776.5 23.5,774.5 24.5,774.5 25.5,774.5 26.5,774.5 27.5,774.5 28.5,774.5 29.5,774.5 30.5,774.5 31.5,774.5 32.5,774.5 33.5,774.5 34.5,774.5 35.5,774.5 36.5,774.5 37.5,774.5 38.5,774.5 39.5,774.5 40.5,774.5 41.5,774.5 42.5,774.5 43.5,774.5 44.5,774.5 45.5,774.5 46.5,774.5 47.5,774.5 48.5,774.5 49.5,774.5 50.5,774.5 51.5,774.5 52.5,774.5 53.5,774.5 54.5,774.5 55.5,774.5 56.5,774.5 57.5,774.5 58.5,774.5 59.5,774.5 60.5,774.5 61.5,774.5 62.5,774.5 63.5,774.5 64.5,774.5 65.5,774.5 66.5,774.5 67.5,774.5 68.5,774.4 69.5,774.4 70.5,774.4 71.5,774.4 72.5,774.4 73.5,774.4 74.5,774.4 75.5,774.4 76.5,774.4 77.5,774.4 78.5,774.4 79.5,774.4 80.5,774.4 81.5,774.4 82.5,774.4 83.5,774.4 84.5,774.4 85.5,774.4 86.5,774.4 87.5,774.4 88.5,774.4 89.5,774.4 90.5,774.4 91.5,774.4 92.5,774.4 93.5,774.3 94.5,774.3 95.5,774.3 96.5,774.3 97.5,774.3 98.5,774.3 99.5,774.3 100.5,774.3 101.5,774.3 102.5,774.3 103.5,774.3 104.5,774.3 105.5,774.3 106.5,774.3 107.5,774.3 108.5,774.3 109.5,774.2 110.5,774.2 111.5,774.2 112.5,774.2 113.5,774.2 114.5,774.2 115.5,774.2 116.5,774.2 117.5,774.1 118.5,774.0 119.5,773.8 120.5,773.7 121.5,773.5 122.5,773.3 123.5,773.0 124.5,772.8 125.5,772.6 126.5,772.3 127.5,772.1 128.5,771.8 129.5,771.6 130.5,771.4 131.5,771.2 132.5,771.0 133.5,770.7 134.5,770.5 135.5,770.3 136.5,770.1 137.5,769.8 138.5,769.6 139.5,769.3 140.5,769.1 141.5,768.9 142.5,768.6 143.5,768.3 144.5,768.1 145.5,767.8 146.5,767.5 147.5,767.2 148.5,766.9 149.5,766.7 150.5,766.3 151.5,766.0 152.5,765.7 153.5,765.4 154.5,765.0 155.5,764.6 156.5,764.3 157.5,763.9 158.5,763.5 159.5,763.1 160.5,762.7 161.5,762.3 162.5,761.9 163.5,761.5 164.5,761.1 165.5,760.7 166.5,760.3 167.5,759.9 168.5,759.5 169.5,759.1 170.5,758.7 171.5,758.3 172.5,757.9 173.5,757.5 174.5,757.1 175.5,756.7 176.5,756.3 177.5,755.9 178.5,755.5 179.5,755.1 180.5,754.7 181.5,754.3 182.5,753.8 183.5,753.4 184.5,753.0 185.5,752.6 186.5,752.1 187.5,751.7 188.5,751.2 189.5,750.7 190.5,750.3 191.5,749.8 192.5,749.3 193.5,748.8 194.5,748.3 195.5,747.8 196.5,747.2 197.5,746.7 198.5,746.2 199.5,745.6 200.5,745.1 201.5,744.5 202.5,744.0 203.5,743.4 204.5,742.8 205.5,742.3 206.5,741.7 207.5,741.1 208.5,740.6 209.5,740.0 210.5,739.4 211.5,738.8 212.5,738.3 213.5,737.7 214.5,737.1 215.5,736.5 216.5,735.9 217.5,735.3 218.5,734.7 219.5,734.1 220.5,733.5 221.5,732.9 222.5,732.3 223.5,731.7 224.5,731.0 225.5,730.4 226.5,729.8 227.5,729.2 228.5,728.6 229.5,727.9 230.5,727.3 231.5,726.7 232.5,726.1 233.5,725.4 234.5,724.8 235.5,724.2 236.5,723.5 237.5,722.9 238.5,722.3 239.5,721.6 240.5,721.0 241.5,720.4 242.5,719.7 243.5,719.1 244.5,718.4 245.5,717.8 246.5,717.1 247.5,716.4 248.5,715.8 249.5,715.1 250.5,714.4 251.5,713.7 252.5,713.1 253.5,712.4 254.5,711.7 255.5,711.0 256.5,710.3 257.5,709.5 258.5,708.8 259.5,708.1 260.5,707.4 261.5,706.7 262.5,705.9 263.5,705.2 264.5,704.4 265.5,703.7 266.5,702.9 267.5,702.2 268.5,701.4 269.5,700.7 270.5,699.9 271.5,699.2 272.5,698.4 273.5,697.6 274.5,696.8 275.5,696.0 276.5,695.3 277.5,694.5 278.5,693.7 279.5,692.9 280.5,692.0 281.5,691.2 282.5,690.4 283.5,689.6 284.5,688.8 285.5,687.9 286.5,687.1 287.5,686.3 288.5,685.5 289.5,684.6 290.5,683.8 291.5,683.0 292.5,682.1 293.5,681.3 294.5,680.5 295.5,679.7 296.5,678.8 297.5,678.0 298.5,677.2 299.5,676.4 300.5,675.5 301.5,674.7 302.5,673.9 303.5,673.0 304.5,672.2 305.5,671.4 306.5,670.5 307.5,669.7 308.5,668.8 309.5,668.0 310.5,667.2 311.5,666.3 312.5,665.5 313.5,664.6 314.5,663.8 314.5,736.2 397.5,736.2" fill="none" stroke="#e8302a" stroke-width="4.0" stroke-linejoin="miter"/>
<text x="326.5" y="637.5" font-size="30.5">Bath</text>
<text x="329.0" y="690.0" font-size="30.5" fill="#e8302a">100 µM</text>
<text x="326.5" y="727.5" font-size="30.5" fill="#e8302a">TPPO</text>
<polyline points="217.0,839.2 313.2,839.2 313.2,787.5" fill="none" stroke="#000" stroke-width="4.0" stroke-linejoin="miter"/>
<text x="322.0" y="825.0" font-size="30.5">3 nA</text>
<text x="215.0" y="871.0" font-size="30.5">100 ms</text>
<line x1="1660.80" y1="707.30" x2="2138.90" y2="707.30" stroke="#000" stroke-width="3.9" stroke-linecap="round" stroke-dasharray="0 7.7"/>
<line x1="1918.90" y1="567.70" x2="1918.90" y2="888.60" stroke="#000" stroke-width="3.9" stroke-linecap="round" stroke-dasharray="0 7.7"/>
<line x1="1653.80" y1="565.70" x2="1653.80" y2="848.90" stroke="#000" stroke-width="4.0" stroke-linecap="butt"/>
<line x1="1640.80" y1="567.70" x2="1653.80" y2="567.70" stroke="#000" stroke-width="4.0" stroke-linecap="butt"/>
<text x="1605.7" y="577.1" font-size="26.5">20</text>
<line x1="1640.80" y1="637.50" x2="1653.80" y2="637.50" stroke="#000" stroke-width="4.0" stroke-linecap="butt"/>
<text x="1605.7" y="646.9" font-size="26.5">10</text>
<line x1="1640.80" y1="707.30" x2="1653.80" y2="707.30" stroke="#000" stroke-width="4.0" stroke-linecap="butt"/>
<text x="1620.4" y="716.7" font-size="26.5">0</text>
<line x1="1640.80" y1="777.10" x2="1653.80" y2="777.10" stroke="#000" stroke-width="4.0" stroke-linecap="butt"/>
<text x="1596.8" y="786.5" font-size="26.5">-10</text>
<line x1="1640.80" y1="846.90" x2="1653.80" y2="846.90" stroke="#000" stroke-width="4.0" stroke-linecap="butt"/>
<text x="1596.8" y="856.3" font-size="26.5">-20</text>
<line x1="1695.90" y1="892.60" x2="2141.90" y2="892.60" stroke="#000" stroke-width="4.0" stroke-linecap="butt"/>
<line x1="1697.90" y1="892.60" x2="1697.90" y2="905.60" stroke="#000" stroke-width="4.0" stroke-linecap="butt"/>
<text x="1671.4" y="929.9" font-size="26.5">-100</text>
<line x1="1808.40" y1="892.60" x2="1808.40" y2="905.60" stroke="#000" stroke-width="4.0" stroke-linecap="butt"/>
<text x="1789.3" y="929.9" font-size="26.5">-50</text>
<line x1="1918.90" y1="892.60" x2="1918.90" y2="905.60" stroke="#000" stroke-width="4.0" stroke-linecap="butt"/>
<text x="1911.5" y="929.9" font-size="26.5">0</text>
<line x1="2029.40" y1="892.60" x2="2029.40" y2="905.60" stroke="#000" stroke-width="4.0" stroke-linecap="butt"/>
<text x="2014.7" y="929.9" font-size="26.5">50</text>
<line x1="2139.90" y1="892.60" x2="2139.90" y2="905.60" stroke="#000" stroke-width="4.0" stroke-linecap="butt"/>
<text x="2117.8" y="929.9" font-size="26.5">100</text>
<text x="1829.4" y="978.5" font-size="31.5">Voltage (mV)</text>
<text transform="translate(1592.6,699.0) rotate(-90)" x="-86.6" y="0" font-size="31.5">Current (nA)</text>
<text x="1869.9" y="559.2" font-size="30.5">H837A</text>
<polyline points="1698.3,802.1 1702.0,800.5 1705.7,798.9 1709.4,797.3 1713.2,795.7 1716.9,794.1 1720.6,792.5 1724.3,790.9 1728.0,789.3 1731.7,787.7 1735.4,786.1 1739.2,784.5 1742.9,782.9 1746.6,781.3 1750.3,779.7 1754.0,778.1 1757.7,776.5 1761.4,774.9 1765.2,773.3 1768.9,771.7 1772.6,770.1 1776.3,768.5 1780.0,766.9 1783.7,765.3 1787.4,763.7 1791.2,762.1 1794.9,760.5 1798.6,758.9 1802.3,757.3 1806.0,755.7 1809.7,754.1 1813.4,752.5 1817.2,750.9 1820.9,749.3 1824.6,747.7 1828.3,746.1 1832.0,744.5 1835.7,742.9 1839.4,741.3 1843.2,739.7 1846.9,738.1 1850.6,736.5 1854.3,734.9 1858.0,733.3 1861.7,731.7 1865.4,730.1 1869.2,728.5 1872.9,726.9 1876.6,725.3 1880.3,723.7 1884.0,722.1 1887.7,720.5 1891.4,718.9 1895.2,717.3 1898.9,715.7 1902.6,714.1 1906.3,712.5 1910.0,710.9 1913.7,709.3 1917.4,707.7 1921.2,706.1 1924.9,704.5 1928.6,702.9 1932.3,701.3 1936.0,699.7 1939.7,698.1 1943.4,696.5 1947.2,694.9 1950.9,693.3 1954.6,691.7 1958.3,690.1 1962.0,688.5 1965.7,686.9 1969.4,685.3 1973.2,683.7 1976.9,682.1 1980.6,680.5 1984.3,678.9 1988.0,677.3 1991.7,675.7 1995.4,674.1 1999.2,672.5 2002.9,670.9 2006.6,669.3 2010.3,667.7 2014.0,666.1 2017.7,664.5 2021.4,662.9 2025.2,661.3 2028.9,659.7 2032.6,658.1 2036.3,656.5 2040.0,654.9 2043.7,653.3 2047.4,651.7 2051.2,650.1 2054.9,648.5 2058.6,646.9 2062.3,645.3 2066.0,643.7 2069.7,642.1 2073.4,640.5 2077.2,638.9 2080.9,637.3 2084.6,635.7 2088.3,634.1 2092.0,632.5 2095.7,630.9 2099.4,629.3 2103.2,627.7 2106.9,626.1 2110.6,624.5 2114.3,622.9 2118.0,621.3 2121.7,619.7 2125.4,618.1 2129.2,616.5 2132.9,614.9 2136.6,613.3 2140.3,611.7" fill="none" stroke="#000" stroke-width="4.6" stroke-linejoin="round"/>
<polyline points="1698.3,718.5 1702.0,718.3 1705.7,718.1 1709.4,717.9 1713.2,717.8 1716.9,717.6 1720.6,717.4 1724.3,717.3 1728.0,717.1 1731.7,716.9 1735.4,716.8 1739.2,716.6 1742.9,716.5 1746.6,716.3 1750.3,716.1 1754.0,716.0 1757.7,715.8 1761.4,715.7 1765.2,715.5 1768.9,715.4 1772.6,715.2 1776.3,715.1 1780.0,714.9 1783.7,714.7 1787.4,714.6 1791.2,714.4 1794.9,714.3 1798.6,714.1 1802.3,713.9 1806.0,713.8 1809.7,713.6 1813.4,713.4 1817.2,713.2 1820.9,713.1 1824.6,712.9 1828.3,712.7 1832.0,712.5 1835.7,712.3 1839.4,712.1 1843.2,712.0 1846.9,711.8 1850.6,711.6 1854.3,711.3 1858.0,711.1 1861.7,710.9 1865.4,710.7 1869.2,710.5 1872.9,710.2 1876.6,710.0 1880.3,709.8 1884.0,709.5 1887.7,709.3 1891.4,709.0 1895.2,708.8 1898.9,708.5 1902.6,708.2 1906.3,707.9 1910.0,707.6 1913.7,707.4 1917.4,707.1 1921.2,706.7 1924.9,706.4 1928.6,706.1 1932.3,705.8 1936.0,705.4 1939.7,705.1 1943.4,704.7 1947.2,704.4 1950.9,704.0 1954.6,703.6 1958.3,703.2 1962.0,702.8 1965.7,702.4 1969.4,702.0 1973.2,701.6 1976.9,701.2 1980.6,700.7 1984.3,700.3 1988.0,699.8 1991.7,699.3 1995.4,698.8 1999.2,698.3 2002.9,697.8 2006.6,697.3 2010.3,696.8 2014.0,696.3 2017.7,695.7 2021.4,695.1 2025.2,694.6 2028.9,694.0 2032.6,693.4 2036.3,692.8 2040.0,692.2 2043.7,691.5 2047.4,690.9 2051.2,690.2 2054.9,689.5 2058.6,688.9 2062.3,688.2 2066.0,687.4 2069.7,686.7 2073.4,686.0 2077.2,685.2 2080.9,684.4 2084.6,683.7 2088.3,682.9 2092.0,682.0 2095.7,681.2 2099.4,680.4 2103.2,679.5 2106.9,678.6 2110.6,677.7 2114.3,676.8 2118.0,675.9 2121.7,675.0 2125.4,674.0 2129.2,673.1 2132.9,672.1 2136.6,671.1 2140.3,670.0" fill="none" stroke="#e8302a" stroke-width="4.6" stroke-linejoin="round"/>
<text x="2076.0" y="597.5" font-size="30.5">Bath</text>
<text x="2037.7" y="721.5" font-size="30.5" fill="#e8302a">100 µM</text>
<text x="2040.0" y="759.5" font-size="30.5" fill="#e8302a">TPPO</text>
<text x="1269.3" y="559.0" font-size="30.5">H837A</text>
<polyline points="1120.5,730.0 1138.0,730.0 1138.0,840.7 1139.5,840.7 1140.5,840.7 1141.5,840.7 1142.5,840.7 1143.5,840.7 1144.5,840.7 1145.5,840.7 1146.5,840.7 1147.5,840.7 1148.5,840.7 1149.5,840.7 1150.5,840.7 1151.5,840.7 1152.5,840.7 1153.5,840.7 1154.5,840.7 1155.5,840.7 1156.5,840.7 1157.5,840.7 1158.5,840.7 1159.5,840.7 1160.5,840.7 1161.5,840.7 1162.5,840.7 1163.5,840.7 1164.5,840.7 1165.5,840.7 1166.5,840.7 1167.5,840.7 1168.5,840.7 1169.5,840.7 1170.5,840.7 1171.5,840.7 1172.5,840.7 1173.5,840.7 1174.5,840.7 1175.5,840.7 1176.5,840.7 1177.5,840.7 1178.5,840.7 1179.5,840.7 1180.5,840.7 1181.5,840.7 1182.5,840.7 1183.5,840.7 1184.5,840.7 1185.5,840.7 1186.5,840.7 1187.5,840.7 1188.5,840.7 1189.5,840.7 1190.5,840.7 1191.5,840.7 1192.5,840.7 1193.5,840.7 1194.5,840.7 1195.5,840.7 1196.5,840.7 1197.5,840.7 1198.5,840.7 1199.5,840.7 1200.5,840.7 1201.5,840.7 1202.5,840.7 1203.5,840.7 1204.5,840.7 1205.5,840.7 1206.5,840.7 1207.5,840.7 1208.5,840.7 1209.5,840.7 1210.5,840.7 1211.5,840.7 1212.5,840.7 1213.5,840.7 1214.5,840.7 1215.5,840.7 1216.5,840.7 1217.5,840.7 1218.5,840.7 1219.5,840.7 1220.5,840.7 1221.5,840.7 1222.5,840.7 1223.5,840.7 1224.5,840.7 1225.5,840.7 1226.5,840.7 1227.5,840.7 1228.5,840.7 1229.5,840.7 1230.5,840.7 1231.5,840.7 1232.5,840.7 1233.5,840.7 1234.5,840.7 1235.5,840.7 1236.5,840.4 1237.5,839.3 1238.5,838.1 1239.5,837.0 1240.5,835.8 1241.5,834.7 1242.5,833.5 1243.5,832.3 1244.5,831.2 1245.5,830.0 1246.5,828.9 1247.5,827.7 1248.5,826.6 1249.5,825.4 1250.5,824.3 1251.5,823.1 1252.5,821.9 1253.5,820.8 1254.5,819.6 1255.5,818.5 1256.5,817.3 1257.5,816.2 1258.5,815.0 1259.5,813.8 1260.5,812.7 1261.5,811.5 1262.5,810.4 1263.5,809.2 1264.5,808.1 1265.5,806.9 1266.5,805.8 1267.5,804.6 1268.5,803.4 1269.5,802.3 1270.5,801.1 1271.5,800.0 1272.5,798.8 1273.5,797.7 1274.5,796.5 1275.5,795.3 1276.5,794.2 1277.5,793.0 1278.5,791.9 1279.5,790.7 1280.5,789.6 1281.5,788.4 1282.5,787.2 1283.5,786.1 1284.5,784.9 1285.5,783.8 1286.5,782.6 1287.5,781.5 1288.5,780.3 1289.5,779.2 1290.5,778.0 1291.5,776.8 1292.5,775.7 1293.5,774.5 1294.5,773.4 1295.5,772.2 1296.5,771.1 1297.5,769.9 1298.5,768.7 1299.5,767.6 1300.5,766.4 1301.5,765.3 1302.5,764.1 1303.5,763.0 1304.5,761.8 1305.5,760.6 1306.5,759.5 1307.5,758.3 1308.5,757.2 1309.5,756.0 1310.5,754.9 1311.5,753.7 1312.5,752.6 1313.5,751.4 1314.5,750.2 1315.5,749.1 1316.5,747.9 1317.5,746.8 1318.5,745.6 1319.5,744.5 1320.5,743.3 1321.5,742.1 1322.5,741.0 1323.5,739.8 1324.5,738.7 1325.5,737.5 1326.5,736.4 1327.5,735.2 1328.5,734.1 1329.5,732.9 1330.5,731.7 1331.5,730.6 1332.5,729.4 1333.5,728.3 1334.5,727.1 1335.5,726.0 1336.5,724.8 1337.5,723.6 1338.5,722.5 1339.5,721.3 1340.5,720.2 1341.5,719.0 1342.5,717.9 1343.5,716.7 1344.5,715.5 1345.5,714.4 1346.5,713.2 1347.5,712.1 1348.5,710.9 1349.5,709.8 1350.5,708.6 1351.5,707.5 1352.5,706.3 1353.5,705.1 1354.5,704.0 1355.5,702.8 1356.5,701.7 1357.5,700.5 1358.5,699.4 1359.5,698.2 1360.5,697.0 1361.5,695.9 1362.5,694.7 1363.5,693.6 1364.5,692.4 1365.5,691.3 1366.5,690.1 1367.5,689.0 1368.5,687.8 1369.5,686.6 1370.5,685.5 1371.5,684.3 1372.5,683.2 1373.5,682.0 1374.5,680.9 1375.5,679.7 1376.5,678.5 1377.5,677.4 1378.5,676.2 1379.5,675.1 1380.5,673.9 1381.5,672.8 1382.5,671.6 1383.5,670.4 1384.5,669.3 1385.5,668.1 1386.5,667.0 1387.5,665.8 1388.5,664.7 1389.5,663.5 1390.5,662.4 1391.5,661.2 1392.5,660.0 1393.5,658.9 1394.5,657.7 1395.5,656.6 1396.5,655.4 1397.5,654.3 1398.5,653.1 1399.5,651.9 1400.5,650.8 1401.5,649.6 1402.5,648.5 1403.5,647.3 1404.5,646.2 1405.5,645.0 1406.5,643.8 1407.5,642.7 1408.5,641.5 1409.5,640.4 1410.5,639.2 1411.5,638.1 1412.5,636.9 1413.5,635.8 1414.5,634.6 1415.5,633.4 1416.5,632.3 1417.5,631.1 1418.5,630.0 1419.5,628.8 1420.5,627.7 1421.5,626.5 1422.5,625.3 1423.5,624.2 1424.5,623.0 1425.5,621.9 1426.5,620.7 1427.5,619.6 1428.5,618.4 1429.5,617.3 1430.5,616.1 1431.2,730.0 1513.8,730.0" fill="none" stroke="#000" stroke-width="4.0" stroke-linejoin="miter"/>
<polyline points="1120.5,730.0 1138.0,730.0 1138.0,744.3 1139.5,744.3 1140.5,744.3 1141.5,744.3 1142.5,744.3 1143.5,744.3 1144.5,744.3 1145.5,744.3 1146.5,744.3 1147.5,744.3 1148.5,744.3 1149.5,744.4 1150.5,744.4 1151.5,744.4 1152.5,744.4 1153.5,744.4 1154.5,744.4 1155.5,744.4 1156.5,744.4 1157.5,744.4 1158.5,744.4 1159.5,744.4 1160.5,744.4 1161.5,744.4 1162.5,744.4 1163.5,744.4 1164.5,744.4 1165.5,744.4 1166.5,744.4 1167.5,744.4 1168.5,744.4 1169.5,744.4 1170.5,744.4 1171.5,744.4 1172.5,744.4 1173.5,744.4 1174.5,744.4 1175.5,744.4 1176.5,744.4 1177.5,744.4 1178.5,744.4 1179.5,744.4 1180.5,744.4 1181.5,744.4 1182.5,744.4 1183.5,744.4 1184.5,744.4 1185.5,744.4 1186.5,744.4 1187.5,744.4 1188.5,744.4 1189.5,744.3 1190.5,744.3 1191.5,744.3 1192.5,744.3 1193.5,744.3 1194.5,744.3 1195.5,744.3 1196.5,744.3 1197.5,744.3 1198.5,744.3 1199.5,744.3 1200.5,744.3 1201.5,744.3 1202.5,744.3 1203.5,744.2 1204.5,744.2 1205.5,744.2 1206.5,744.2 1207.5,744.2 1208.5,744.2 1209.5,744.2 1210.5,744.1 1211.5,744.1 1212.5,744.1 1213.5,744.1 1214.5,744.1 1215.5,744.0 1216.5,744.0 1217.5,744.0 1218.5,744.0 1219.5,743.9 1220.5,743.9 1221.5,743.9 1222.5,743.9 1223.5,743.8 1224.5,743.8 1225.5,743.8 1226.5,743.7 1227.5,743.7 1228.5,743.7 1229.5,743.7 1230.5,743.6 1231.5,743.6 1232.5,743.6 1233.5,743.5 1234.5,743.5 1235.5,743.5 1236.5,743.4 1237.5,743.4 1238.5,743.3 1239.5,743.3 1240.5,743.3 1241.5,743.2 1242.5,743.2 1243.5,743.1 1244.5,743.1 1245.5,743.0 1246.5,743.0 1247.5,742.9 1248.5,742.8 1249.5,742.8 1250.5,742.7 1251.5,742.7 1252.5,742.6 1253.5,742.5 1254.5,742.4 1255.5,742.4 1256.5,742.3 1257.5,742.2 1258.5,742.1 1259.5,742.0 1260.5,741.9 1261.5,741.9 1262.5,741.8 1263.5,741.7 1264.5,741.6 1265.5,741.5 1266.5,741.4 1267.5,741.3 1268.5,741.2 1269.5,741.1 1270.5,740.9 1271.5,740.8 1272.5,740.7 1273.5,740.6 1274.5,740.5 1275.5,740.3 1276.5,740.2 1277.5,740.1 1278.5,739.9 1279.5,739.8 1280.5,739.7 1281.5,739.5 1282.5,739.4 1283.5,739.2 1284.5,739.1 1285.5,738.9 1286.5,738.7 1287.5,738.6 1288.5,738.4 1289.5,738.3 1290.5,738.1 1291.5,737.9 1292.5,737.8 1293.5,737.6 1294.5,737.4 1295.5,737.3 1296.5,737.1 1297.5,737.0 1298.5,736.8 1299.5,736.7 1300.5,736.5 1301.5,736.4 1302.5,736.2 1303.5,736.1 1304.5,735.9 1305.5,735.8 1306.5,735.6 1307.5,735.5 1308.5,735.3 1309.5,735.1 1310.5,735.0 1311.5,734.8 1312.5,734.7 1313.5,734.5 1314.5,734.3 1315.5,734.1 1316.5,733.9 1317.5,733.7 1318.5,733.5 1319.5,733.3 1320.5,733.0 1321.5,732.8 1322.5,732.5 1323.5,732.3 1324.5,732.0 1325.5,731.7 1326.5,731.4 1327.5,731.2 1328.5,730.9 1329.5,730.6 1330.5,730.3 1331.5,730.0 1332.5,729.6 1333.5,729.3 1334.5,729.0 1335.5,728.7 1336.5,728.3 1337.5,728.0 1338.5,727.7 1339.5,727.3 1340.5,727.0 1341.5,726.7 1342.5,726.3 1343.5,726.0 1344.5,725.6 1345.5,725.3 1346.5,724.9 1347.5,724.6 1348.5,724.2 1349.5,723.8 1350.5,723.5 1351.5,723.1 1352.5,722.7 1353.5,722.4 1354.5,722.0 1355.5,721.6 1356.5,721.2 1357.5,720.9 1358.5,720.5 1359.5,720.1 1360.5,719.7 1361.5,719.3 1362.5,718.9 1363.5,718.6 1364.5,718.2 1365.5,717.8 1366.5,717.4 1367.5,717.0 1368.5,716.6 1369.5,716.2 1370.5,715.8 1371.5,715.4 1372.5,715.0 1373.5,714.6 1374.5,714.2 1375.5,713.8 1376.5,713.4 1377.5,713.0 1378.5,712.6 1379.5,712.2 1380.5,711.8 1381.5,711.4 1382.5,711.0 1383.5,710.6 1384.5,710.2 1385.5,709.7 1386.5,709.3 1387.5,708.9 1388.5,708.5 1389.5,708.0 1390.5,707.6 1391.5,707.1 1392.5,706.6 1393.5,706.2 1394.5,705.7 1395.5,705.2 1396.5,704.7 1397.5,704.3 1398.5,703.8 1399.5,703.3 1400.5,702.8 1401.5,702.3 1402.5,701.8 1403.5,701.3 1404.5,700.8 1405.5,700.3 1406.5,699.8 1407.5,699.3 1408.5,698.8 1409.5,698.3 1410.5,697.8 1411.5,697.3 1412.5,696.8 1413.5,696.2 1414.5,695.7 1415.5,695.2 1416.5,694.6 1417.5,694.1 1418.5,693.5 1419.5,693.0 1420.5,692.4 1421.5,691.8 1422.5,691.2 1423.5,690.6 1424.5,690.0 1425.5,689.4 1426.5,688.8 1427.5,688.1 1428.5,687.4 1429.5,686.7 1430.5,685.9 1431.2,730.0 1513.8,730.0" fill="none" stroke="#e8302a" stroke-width="4.0" stroke-linejoin="miter"/>
<text x="1441.0" y="637.5" font-size="30.5">Bath</text>
<text x="1444.0" y="682.5" font-size="30.5" fill="#e8302a">100 µM</text>
<text x="1443.0" y="721.0" font-size="30.5" fill="#e8302a">TPPO</text>
<polyline points="1328.8,841.2 1430.0,841.2 1430.0,800.0" fill="none" stroke="#000" stroke-width="4.0" stroke-linejoin="miter"/>
<text x="1439.0" y="831.2" font-size="30.5">5 nA</text>
<text x="1329.0" y="873.8" font-size="30.5">100 ms</text>
<line x1="98.40" y1="1366.80" x2="632.42" y2="1366.80" stroke="#000" stroke-width="4.5" stroke-linecap="round" stroke-dasharray="0 9.55"/>
<line x1="88.40" y1="1102.20" x2="88.40" y2="1421.00" stroke="#000" stroke-width="3.2" stroke-linecap="butt"/>
<line x1="73.40" y1="1103.80" x2="88.40" y2="1103.80" stroke="#000" stroke-width="3.2" stroke-linecap="butt"/>
<text x="52.7" y="1113.2" font-size="26.5">5</text>
<line x1="73.40" y1="1156.40" x2="88.40" y2="1156.40" stroke="#000" stroke-width="3.2" stroke-linecap="butt"/>
<text x="52.7" y="1165.8" font-size="26.5">4</text>
<line x1="73.40" y1="1209.00" x2="88.40" y2="1209.00" stroke="#000" stroke-width="3.2" stroke-linecap="butt"/>
<text x="52.7" y="1218.4" font-size="26.5">3</text>
<line x1="73.40" y1="1261.60" x2="88.40" y2="1261.60" stroke="#000" stroke-width="3.2" stroke-linecap="butt"/>
<text x="52.7" y="1271.0" font-size="26.5">2</text>
<line x1="73.40" y1="1314.20" x2="88.40" y2="1314.20" stroke="#000" stroke-width="3.2" stroke-linecap="butt"/>
<text x="52.7" y="1323.6" font-size="26.5">1</text>
<line x1="73.40" y1="1366.80" x2="88.40" y2="1366.80" stroke="#000" stroke-width="3.2" stroke-linecap="butt"/>
<text x="52.7" y="1376.2" font-size="26.5">0</text>
<line x1="73.40" y1="1419.40" x2="88.40" y2="1419.40" stroke="#000" stroke-width="3.2" stroke-linecap="butt"/>
<text x="43.8" y="1428.8" font-size="26.5">-1</text>
<line x1="137.10" y1="1469.40" x2="638.02" y2="1469.40" stroke="#000" stroke-width="3.2" stroke-linecap="butt"/>
<line x1="138.70" y1="1469.40" x2="138.70" y2="1484.90" stroke="#000" stroke-width="3.2" stroke-linecap="butt"/>
<text x="131.3" y="1510.2" font-size="26.5">0</text>
<line x1="263.13" y1="1469.40" x2="263.13" y2="1484.90" stroke="#000" stroke-width="3.2" stroke-linecap="butt"/>
<text x="241.0" y="1510.2" font-size="26.5">100</text>
<line x1="387.56" y1="1469.40" x2="387.56" y2="1484.90" stroke="#000" stroke-width="3.2" stroke-linecap="butt"/>
<text x="365.4" y="1510.2" font-size="26.5">200</text>
<line x1="511.99" y1="1469.40" x2="511.99" y2="1484.90" stroke="#000" stroke-width="3.2" stroke-linecap="butt"/>
<text x="489.9" y="1510.2" font-size="26.5">300</text>
<line x1="636.42" y1="1469.40" x2="636.42" y2="1484.90" stroke="#000" stroke-width="3.2" stroke-linecap="butt"/>
<text x="614.3" y="1510.2" font-size="26.5">400</text>
<text x="331.6" y="1548.7" font-size="31">Time (s)</text>
<text transform="translate(25.7,1261.6) rotate(-90)" x="-82.5" y="0" font-size="30">Current (nA)</text>
<text x="338.3" y="1038.1" font-size="30.5">WT</text>
<polyline points="138.7,1359.2 151.1,1361.0 163.6,1360.2 176.0,1358.1 188.5,1352.1 200.9,1350.0 213.4,1341.0 225.8,1330.5 238.2,1316.8 250.7,1304.7 263.1,1290.5 275.6,1275.3 288.0,1269.0 300.5,1257.9 312.9,1252.1 325.3,1242.1 337.8,1238.5 350.2,1232.1 362.7,1231.6 375.1,1238.5 387.6,1339.4 400.0,1346.3 412.4,1343.7 424.9,1345.2 437.3,1347.9 449.8,1347.1 462.2,1347.1 474.7,1347.9 487.1,1348.1 499.5,1350.5 512.0,1349.4" fill="none" stroke="#000" stroke-width="1.6" stroke-linejoin="miter"/>
<circle cx="138.7" cy="1359.2" r="7.5" fill="#000"/>
<circle cx="151.1" cy="1361.0" r="7.5" fill="#000"/>
<circle cx="163.6" cy="1360.2" r="7.5" fill="#000"/>
<circle cx="176.0" cy="1358.1" r="7.5" fill="#000"/>
<circle cx="188.5" cy="1352.1" r="7.5" fill="#000"/>
<circle cx="200.9" cy="1350.0" r="7.5" fill="#000"/>
<circle cx="213.4" cy="1341.0" r="7.5" fill="#000"/>
<circle cx="225.8" cy="1330.5" r="7.5" fill="#000"/>
<circle cx="238.2" cy="1316.8" r="7.5" fill="#000"/>
<circle cx="250.7" cy="1304.7" r="7.5" fill="#000"/>
<circle cx="263.1" cy="1290.5" r="7.5" fill="#000"/>
<circle cx="275.6" cy="1275.3" r="7.5" fill="#000"/>
<circle cx="288.0" cy="1269.0" r="7.5" fill="#000"/>
<circle cx="300.5" cy="1257.9" r="7.5" fill="#000"/>
<circle cx="312.9" cy="1252.1" r="7.5" fill="#000"/>
<circle cx="325.3" cy="1242.1" r="7.5" fill="#000"/>
<circle cx="337.8" cy="1238.5" r="7.5" fill="#000"/>
<circle cx="350.2" cy="1232.1" r="7.5" fill="#000"/>
<circle cx="362.7" cy="1231.6" r="7.5" fill="#000"/>
<circle cx="375.1" cy="1238.5" r="7.5" fill="#000"/>
<circle cx="387.6" cy="1339.4" r="7.5" fill="#000"/>
<circle cx="400.0" cy="1346.3" r="7.5" fill="#000"/>
<circle cx="412.4" cy="1343.7" r="7.5" fill="#000"/>
<circle cx="424.9" cy="1345.2" r="7.5" fill="#000"/>
<circle cx="437.3" cy="1347.9" r="7.5" fill="#000"/>
<circle cx="449.8" cy="1347.1" r="7.5" fill="#000"/>
<circle cx="462.2" cy="1347.1" r="7.5" fill="#000"/>
<circle cx="474.7" cy="1347.9" r="7.5" fill="#000"/>
<circle cx="487.1" cy="1348.1" r="7.5" fill="#000"/>
<circle cx="499.5" cy="1350.5" r="7.5" fill="#000"/>
<circle cx="512.0" cy="1349.4" r="7.5" fill="#000"/>
<polyline points="138.7,1371.3 151.1,1371.3 163.6,1371.3 176.0,1371.3 188.5,1373.6 200.9,1372.1 213.4,1372.1 225.8,1372.1 238.2,1373.6 250.7,1373.6 263.1,1375.2 275.6,1377.3 288.0,1377.3 300.5,1380.0 312.9,1381.5 325.3,1385.2 337.8,1387.3 350.2,1387.8 362.7,1389.4 375.1,1385.2 387.6,1372.1 400.0,1371.3 412.4,1371.3 424.9,1371.3 437.3,1371.3 449.8,1371.3 462.2,1371.3 474.7,1371.3 487.1,1371.3 499.5,1371.3 512.0,1371.3" fill="none" stroke="#000" stroke-width="1.6" stroke-linejoin="miter"/>
<circle cx="138.7" cy="1371.3" r="6.9" fill="#fff" stroke="#000" stroke-width="1.4"/>
<circle cx="151.1" cy="1371.3" r="6.9" fill="#fff" stroke="#000" stroke-width="1.4"/>
<circle cx="163.6" cy="1371.3" r="6.9" fill="#fff" stroke="#000" stroke-width="1.4"/>
<circle cx="176.0" cy="1371.3" r="6.9" fill="#fff" stroke="#000" stroke-width="1.4"/>
<circle cx="188.5" cy="1373.6" r="6.9" fill="#fff" stroke="#000" stroke-width="1.4"/>
<circle cx="200.9" cy="1372.1" r="6.9" fill="#fff" stroke="#000" stroke-width="1.4"/>
<circle cx="213.4" cy="1372.1" r="6.9" fill="#fff" stroke="#000" stroke-width="1.4"/>
<circle cx="225.8" cy="1372.1" r="6.9" fill="#fff" stroke="#000" stroke-width="1.4"/>
<circle cx="238.2" cy="1373.6" r="6.9" fill="#fff" stroke="#000" stroke-width="1.4"/>
<circle cx="250.7" cy="1373.6" r="6.9" fill="#fff" stroke="#000" stroke-width="1.4"/>
<circle cx="263.1" cy="1375.2" r="6.9" fill="#fff" stroke="#000" stroke-width="1.4"/>
<circle cx="275.6" cy="1377.3" r="6.9" fill="#fff" stroke="#000" stroke-width="1.4"/>
<circle cx="288.0" cy="1377.3" r="6.9" fill="#fff" stroke="#000" stroke-width="1.4"/>
<circle cx="300.5" cy="1380.0" r="6.9" fill="#fff" stroke="#000" stroke-width="1.4"/>
<circle cx="312.9" cy="1381.5" r="6.9" fill="#fff" stroke="#000" stroke-width="1.4"/>
<circle cx="325.3" cy="1385.2" r="6.9" fill="#fff" stroke="#000" stroke-width="1.4"/>
<circle cx="337.8" cy="1387.3" r="6.9" fill="#fff" stroke="#000" stroke-width="1.4"/>
<circle cx="350.2" cy="1387.8" r="6.9" fill="#fff" stroke="#000" stroke-width="1.4"/>
<circle cx="362.7" cy="1389.4" r="6.9" fill="#fff" stroke="#000" stroke-width="1.4"/>
<circle cx="375.1" cy="1385.2" r="6.9" fill="#fff" stroke="#000" stroke-width="1.4"/>
<circle cx="387.6" cy="1372.1" r="6.9" fill="#fff" stroke="#000" stroke-width="1.4"/>
<circle cx="400.0" cy="1371.3" r="6.9" fill="#fff" stroke="#000" stroke-width="1.4"/>
<circle cx="412.4" cy="1371.3" r="6.9" fill="#fff" stroke="#000" stroke-width="1.4"/>
<circle cx="424.9" cy="1371.3" r="6.9" fill="#fff" stroke="#000" stroke-width="1.4"/>
<circle cx="437.3" cy="1371.3" r="6.9" fill="#fff" stroke="#000" stroke-width="1.4"/>
<circle cx="449.8" cy="1371.3" r="6.9" fill="#fff" stroke="#000" stroke-width="1.4"/>
<circle cx="462.2" cy="1371.3" r="6.9" fill="#fff" stroke="#000" stroke-width="1.4"/>
<circle cx="474.7" cy="1371.3" r="6.9" fill="#fff" stroke="#000" stroke-width="1.4"/>
<circle cx="487.1" cy="1371.3" r="6.9" fill="#fff" stroke="#000" stroke-width="1.4"/>
<circle cx="499.5" cy="1371.3" r="6.9" fill="#fff" stroke="#000" stroke-width="1.4"/>
<circle cx="512.0" cy="1371.3" r="6.9" fill="#fff" stroke="#000" stroke-width="1.4"/>
<text x="399.4" y="1114.4" font-size="27">100 µM</text>
<text x="400.4" y="1146.3" font-size="27">TPPO</text>
<line x1="375.70" y1="1157.00" x2="511.70" y2="1157.00" stroke="#e8302a" stroke-width="6.4" stroke-linecap="round"/>
<line x1="456.00" y1="1268.60" x2="496.00" y2="1268.60" stroke="#000" stroke-width="1.6" stroke-linecap="butt"/>
<circle cx="476.0" cy="1268.6" r="7.5" fill="#000"/>
<text x="517.2" y="1279.2" font-size="30">+100 mV</text>
<line x1="456.00" y1="1304.00" x2="496.00" y2="1304.00" stroke="#000" stroke-width="1.6" stroke-linecap="butt"/>
<circle cx="476.0" cy="1304.0" r="6.9" fill="#fff" stroke="#000" stroke-width="1.4"/>
<text x="517.2" y="1314.6" font-size="30">-100 mV</text>
<path d="M226.4,1155.3 A59.3,59.3 0 1 1 214.2,1144.2" fill="none" stroke="#000" stroke-width="3"/>
<line x1="214.16" y1="1144.24" x2="254.36" y2="1100.37" stroke="#000" stroke-width="3" stroke-linecap="butt"/>
<line x1="226.43" y1="1155.28" x2="265.61" y2="1112.52" stroke="#000" stroke-width="3" stroke-linecap="butt"/>
<text x="134.5" y="1188.4" font-size="27">0.3 µM</text>
<text x="150.1" y="1222.0" font-size="27">Ca<tspan font-size="16.5" dy="-11">2+</tspan></text>
<line x1="853.20" y1="1314.30" x2="1386.40" y2="1314.30" stroke="#000" stroke-width="4.5" stroke-linecap="round" stroke-dasharray="0 9.55"/>
<line x1="843.20" y1="1102.90" x2="843.20" y2="1420.80" stroke="#000" stroke-width="3.2" stroke-linecap="butt"/>
<line x1="828.20" y1="1104.50" x2="843.20" y2="1104.50" stroke="#000" stroke-width="3.2" stroke-linecap="butt"/>
<text x="792.8" y="1113.9" font-size="26.5">10</text>
<line x1="828.20" y1="1209.40" x2="843.20" y2="1209.40" stroke="#000" stroke-width="3.2" stroke-linecap="butt"/>
<text x="807.5" y="1218.8" font-size="26.5">5</text>
<line x1="828.20" y1="1314.30" x2="843.20" y2="1314.30" stroke="#000" stroke-width="3.2" stroke-linecap="butt"/>
<text x="807.5" y="1323.7" font-size="26.5">0</text>
<line x1="828.20" y1="1419.20" x2="843.20" y2="1419.20" stroke="#000" stroke-width="3.2" stroke-linecap="butt"/>
<text x="798.6" y="1428.6" font-size="26.5">-5</text>
<line x1="891.60" y1="1469.30" x2="1392.00" y2="1469.30" stroke="#000" stroke-width="3.2" stroke-linecap="butt"/>
<line x1="893.20" y1="1469.30" x2="893.20" y2="1484.80" stroke="#000" stroke-width="3.2" stroke-linecap="butt"/>
<text x="885.8" y="1510.1" font-size="26.5">0</text>
<line x1="1017.50" y1="1469.30" x2="1017.50" y2="1484.80" stroke="#000" stroke-width="3.2" stroke-linecap="butt"/>
<text x="995.4" y="1510.1" font-size="26.5">100</text>
<line x1="1141.80" y1="1469.30" x2="1141.80" y2="1484.80" stroke="#000" stroke-width="3.2" stroke-linecap="butt"/>
<text x="1119.7" y="1510.1" font-size="26.5">200</text>
<line x1="1266.10" y1="1469.30" x2="1266.10" y2="1484.80" stroke="#000" stroke-width="3.2" stroke-linecap="butt"/>
<text x="1244.0" y="1510.1" font-size="26.5">300</text>
<line x1="1390.40" y1="1469.30" x2="1390.40" y2="1484.80" stroke="#000" stroke-width="3.2" stroke-linecap="butt"/>
<text x="1368.3" y="1510.1" font-size="26.5">400</text>
<text x="1085.8" y="1548.6" font-size="31">Time (s)</text>
<text transform="translate(780.3,1261.8) rotate(-90)" x="-82.5" y="0" font-size="30">Current (nA)</text>
<text x="1067.8" y="1039.0" font-size="30.5">R998A</text>
<polyline points="893.2,1311.7 905.6,1312.4 918.1,1309.8 930.5,1301.9 942.9,1289.2 955.4,1271.8 967.8,1257.3 980.2,1246.4 992.6,1239.2 1005.1,1236.3 1017.5,1234.8 1029.9,1233.7 1042.4,1231.2 1054.8,1228.3 1067.2,1224.0 1079.7,1219.3 1092.1,1213.8 1104.5,1207.3 1116.9,1199.3 1129.4,1192.1 1141.8,1184.1 1154.2,1175.8 1166.7,1167.4 1179.1,1162.4 1191.5,1157.6 1204.0,1155.1 1216.4,1152.2 1228.8,1148.6 1241.2,1159.5 1253.7,1156.6 1266.1,1155.1 1278.5,1152.9" fill="none" stroke="#000" stroke-width="1.6" stroke-linejoin="miter"/>
<circle cx="893.2" cy="1311.7" r="7.5" fill="#000"/>
<circle cx="905.6" cy="1312.4" r="7.5" fill="#000"/>
<circle cx="918.1" cy="1309.8" r="7.5" fill="#000"/>
<circle cx="930.5" cy="1301.9" r="7.5" fill="#000"/>
<circle cx="942.9" cy="1289.2" r="7.5" fill="#000"/>
<circle cx="955.4" cy="1271.8" r="7.5" fill="#000"/>
<circle cx="967.8" cy="1257.3" r="7.5" fill="#000"/>
<circle cx="980.2" cy="1246.4" r="7.5" fill="#000"/>
<circle cx="992.6" cy="1239.2" r="7.5" fill="#000"/>
<circle cx="1005.1" cy="1236.3" r="7.5" fill="#000"/>
<circle cx="1017.5" cy="1234.8" r="7.5" fill="#000"/>
<circle cx="1029.9" cy="1233.7" r="7.5" fill="#000"/>
<circle cx="1042.4" cy="1231.2" r="7.5" fill="#000"/>
<circle cx="1054.8" cy="1228.3" r="7.5" fill="#000"/>
<circle cx="1067.2" cy="1224.0" r="7.5" fill="#000"/>
<circle cx="1079.7" cy="1219.3" r="7.5" fill="#000"/>
<circle cx="1092.1" cy="1213.8" r="7.5" fill="#000"/>
<circle cx="1104.5" cy="1207.3" r="7.5" fill="#000"/>
<circle cx="1116.9" cy="1199.3" r="7.5" fill="#000"/>
<circle cx="1129.4" cy="1192.1" r="7.5" fill="#000"/>
<circle cx="1141.8" cy="1184.1" r="7.5" fill="#000"/>
<circle cx="1154.2" cy="1175.8" r="7.5" fill="#000"/>
<circle cx="1166.7" cy="1167.4" r="7.5" fill="#000"/>
<circle cx="1179.1" cy="1162.4" r="7.5" fill="#000"/>
<circle cx="1191.5" cy="1157.6" r="7.5" fill="#000"/>
<circle cx="1204.0" cy="1155.1" r="7.5" fill="#000"/>
<circle cx="1216.4" cy="1152.2" r="7.5" fill="#000"/>
<circle cx="1228.8" cy="1148.6" r="7.5" fill="#000"/>
<circle cx="1241.2" cy="1159.5" r="7.5" fill="#000"/>
<circle cx="1253.7" cy="1156.6" r="7.5" fill="#000"/>
<circle cx="1266.1" cy="1155.1" r="7.5" fill="#000"/>
<circle cx="1278.5" cy="1152.9" r="7.5" fill="#000"/>
<polyline points="893.2,1316.3 905.6,1316.3 918.1,1316.3 930.5,1316.3 942.9,1318.1 955.4,1320.7 967.8,1323.6 980.2,1325.4 992.6,1327.9 1005.1,1329.0 1017.5,1329.0 1029.9,1329.7 1042.4,1331.5 1054.8,1332.6 1067.2,1333.4 1079.7,1335.9 1092.1,1338.8 1104.5,1342.4 1116.9,1346.0 1129.4,1350.7 1141.8,1356.9 1154.2,1363.1 1166.7,1369.6 1179.1,1375.8 1191.5,1380.5 1204.0,1384.1 1216.4,1387.7 1228.8,1392.1 1241.2,1379.7 1253.7,1383.0 1266.1,1384.8 1278.5,1388.8" fill="none" stroke="#000" stroke-width="1.6" stroke-linejoin="miter"/>
<circle cx="893.2" cy="1316.3" r="6.9" fill="#fff" stroke="#000" stroke-width="1.4"/>
<circle cx="905.6" cy="1316.3" r="6.9" fill="#fff" stroke="#000" stroke-width="1.4"/>
<circle cx="918.1" cy="1316.3" r="6.9" fill="#fff" stroke="#000" stroke-width="1.4"/>
<circle cx="930.5" cy="1316.3" r="6.9" fill="#fff" stroke="#000" stroke-width="1.4"/>
<circle cx="942.9" cy="1318.1" r="6.9" fill="#fff" stroke="#000" stroke-width="1.4"/>
<circle cx="955.4" cy="1320.7" r="6.9" fill="#fff" stroke="#000" stroke-width="1.4"/>
<circle cx="967.8" cy="1323.6" r="6.9" fill="#fff" stroke="#000" stroke-width="1.4"/>
<circle cx="980.2" cy="1325.4" r="6.9" fill="#fff" stroke="#000" stroke-width="1.4"/>
<circle cx="992.6" cy="1327.9" r="6.9" fill="#fff" stroke="#000" stroke-width="1.4"/>
<circle cx="1005.1" cy="1329.0" r="6.9" fill="#fff" stroke="#000" stroke-width="1.4"/>
<circle cx="1017.5" cy="1329.0" r="6.9" fill="#fff" stroke="#000" stroke-width="1.4"/>
<circle cx="1029.9" cy="1329.7" r="6.9" fill="#fff" stroke="#000" stroke-width="1.4"/>
<circle cx="1042.4" cy="1331.5" r="6.9" fill="#fff" stroke="#000" stroke-width="1.4"/>
<circle cx="1054.8" cy="1332.6" r="6.9" fill="#fff" stroke="#000" stroke-width="1.4"/>
<circle cx="1067.2" cy="1333.4" r="6.9" fill="#fff" stroke="#000" stroke-width="1.4"/>
<circle cx="1079.7" cy="1335.9" r="6.9" fill="#fff" stroke="#000" stroke-width="1.4"/>
<circle cx="1092.1" cy="1338.8" r="6.9" fill="#fff" stroke="#000" stroke-width="1.4"/>
<circle cx="1104.5" cy="1342.4" r="6.9" fill="#fff" stroke="#000" stroke-width="1.4"/>
<circle cx="1116.9" cy="1346.0" r="6.9" fill="#fff" stroke="#000" stroke-width="1.4"/>
<circle cx="1129.4" cy="1350.7" r="6.9" fill="#fff" stroke="#000" stroke-width="1.4"/>
<circle cx="1141.8" cy="1356.9" r="6.9" fill="#fff" stroke="#000" stroke-width="1.4"/>
<circle cx="1154.2" cy="1363.1" r="6.9" fill="#fff" stroke="#000" stroke-width="1.4"/>
<circle cx="1166.7" cy="1369.6" r="6.9" fill="#fff" stroke="#000" stroke-width="1.4"/>
<circle cx="1179.1" cy="1375.8" r="6.9" fill="#fff" stroke="#000" stroke-width="1.4"/>
<circle cx="1191.5" cy="1380.5" r="6.9" fill="#fff" stroke="#000" stroke-width="1.4"/>
<circle cx="1204.0" cy="1384.1" r="6.9" fill="#fff" stroke="#000" stroke-width="1.4"/>
<circle cx="1216.4" cy="1387.7" r="6.9" fill="#fff" stroke="#000" stroke-width="1.4"/>
<circle cx="1228.8" cy="1392.1" r="6.9" fill="#fff" stroke="#000" stroke-width="1.4"/>
<circle cx="1241.2" cy="1379.7" r="6.9" fill="#fff" stroke="#000" stroke-width="1.4"/>
<circle cx="1253.7" cy="1383.0" r="6.9" fill="#fff" stroke="#000" stroke-width="1.4"/>
<circle cx="1266.1" cy="1384.8" r="6.9" fill="#fff" stroke="#000" stroke-width="1.4"/>
<circle cx="1278.5" cy="1388.8" r="6.9" fill="#fff" stroke="#000" stroke-width="1.4"/>
<text x="1210.0" y="1082.6" font-size="27">100 µM</text>
<text x="1211.0" y="1115.2" font-size="27">TPPO</text>
<line x1="1229.70" y1="1125.40" x2="1278.60" y2="1125.40" stroke="#e8302a" stroke-width="6.4" stroke-linecap="round"/>
<line x1="1193.60" y1="1248.20" x2="1233.60" y2="1248.20" stroke="#000" stroke-width="1.6" stroke-linecap="butt"/>
<circle cx="1213.6" cy="1248.2" r="7.5" fill="#000"/>
<text x="1255.4" y="1258.8" font-size="30">+100 mV</text>
<line x1="1193.60" y1="1282.70" x2="1233.60" y2="1282.70" stroke="#000" stroke-width="1.6" stroke-linecap="butt"/>
<circle cx="1213.6" cy="1282.7" r="6.9" fill="#fff" stroke="#000" stroke-width="1.4"/>
<text x="1255.4" y="1293.3" font-size="30">-100 mV</text>
<path d="M964.7,1155.8 A59.3,59.3 0 1 1 952.5,1144.7" fill="none" stroke="#000" stroke-width="3"/>
<line x1="952.46" y1="1144.74" x2="992.66" y2="1100.87" stroke="#000" stroke-width="3" stroke-linecap="butt"/>
<line x1="964.73" y1="1155.78" x2="1003.91" y2="1113.02" stroke="#000" stroke-width="3" stroke-linecap="butt"/>
<text x="872.8" y="1188.9" font-size="27">0.3 µM</text>
<text x="888.4" y="1222.5" font-size="27">Ca<tspan font-size="16.5" dy="-11">2+</tspan></text>
<line x1="1605.80" y1="1314.20" x2="2139.30" y2="1314.20" stroke="#000" stroke-width="4.5" stroke-linecap="round" stroke-dasharray="0 9.55"/>
<line x1="1595.80" y1="1102.40" x2="1595.80" y2="1420.90" stroke="#000" stroke-width="3.2" stroke-linecap="butt"/>
<line x1="1580.80" y1="1104.00" x2="1595.80" y2="1104.00" stroke="#000" stroke-width="3.2" stroke-linecap="butt"/>
<text x="1560.1" y="1113.4" font-size="26.5">4</text>
<line x1="1580.80" y1="1209.10" x2="1595.80" y2="1209.10" stroke="#000" stroke-width="3.2" stroke-linecap="butt"/>
<text x="1560.1" y="1218.5" font-size="26.5">2</text>
<line x1="1580.80" y1="1314.20" x2="1595.80" y2="1314.20" stroke="#000" stroke-width="3.2" stroke-linecap="butt"/>
<text x="1560.1" y="1323.6" font-size="26.5">0</text>
<line x1="1580.80" y1="1419.30" x2="1595.80" y2="1419.30" stroke="#000" stroke-width="3.2" stroke-linecap="butt"/>
<text x="1551.2" y="1428.7" font-size="26.5">-2</text>
<line x1="1644.20" y1="1469.30" x2="2144.90" y2="1469.30" stroke="#000" stroke-width="3.2" stroke-linecap="butt"/>
<line x1="1645.80" y1="1469.30" x2="1645.80" y2="1484.80" stroke="#000" stroke-width="3.2" stroke-linecap="butt"/>
<text x="1638.4" y="1510.1" font-size="26.5">0</text>
<line x1="1745.30" y1="1469.30" x2="1745.30" y2="1484.80" stroke="#000" stroke-width="3.2" stroke-linecap="butt"/>
<text x="1730.6" y="1510.1" font-size="26.5">50</text>
<line x1="1844.80" y1="1469.30" x2="1844.80" y2="1484.80" stroke="#000" stroke-width="3.2" stroke-linecap="butt"/>
<text x="1822.7" y="1510.1" font-size="26.5">100</text>
<line x1="1944.30" y1="1469.30" x2="1944.30" y2="1484.80" stroke="#000" stroke-width="3.2" stroke-linecap="butt"/>
<text x="1922.2" y="1510.1" font-size="26.5">150</text>
<line x1="2043.80" y1="1469.30" x2="2043.80" y2="1484.80" stroke="#000" stroke-width="3.2" stroke-linecap="butt"/>
<text x="2021.7" y="1510.1" font-size="26.5">200</text>
<line x1="2143.30" y1="1469.30" x2="2143.30" y2="1484.80" stroke="#000" stroke-width="3.2" stroke-linecap="butt"/>
<text x="2121.2" y="1510.1" font-size="26.5">250</text>
<text x="1838.6" y="1548.6" font-size="31">Time (s)</text>
<text transform="translate(1532.7,1261.7) rotate(-90)" x="-82.5" y="0" font-size="30">Current (nA)</text>
<text x="1822.7" y="1039.0" font-size="30.5">F730A</text>
<polyline points="1645.8,1306.2 1665.7,1300.8 1685.6,1291.7 1705.5,1274.3 1725.4,1257.3 1745.3,1239.2 1765.2,1222.9 1785.1,1212.0 1805.0,1200.0 1824.9,1190.3 1844.8,1178.7 1864.7,1174.0 1884.6,1167.4 1904.5,1158.7 1924.4,1155.1 1944.3,1148.6 1964.2,1146.0 1984.1,1145.7 2004.0,1161.3 2023.9,1190.3 2043.8,1193.2 2063.7,1199.3 2083.6,1201.1 2103.5,1202.9" fill="none" stroke="#000" stroke-width="1.6" stroke-linejoin="miter"/>
<circle cx="1645.8" cy="1306.2" r="7.5" fill="#000"/>
<circle cx="1665.7" cy="1300.8" r="7.5" fill="#000"/>
<circle cx="1685.6" cy="1291.7" r="7.5" fill="#000"/>
<circle cx="1705.5" cy="1274.3" r="7.5" fill="#000"/>
<circle cx="1725.4" cy="1257.3" r="7.5" fill="#000"/>
<circle cx="1745.3" cy="1239.2" r="7.5" fill="#000"/>
<circle cx="1765.2" cy="1222.9" r="7.5" fill="#000"/>
<circle cx="1785.1" cy="1212.0" r="7.5" fill="#000"/>
<circle cx="1805.0" cy="1200.0" r="7.5" fill="#000"/>
<circle cx="1824.9" cy="1190.3" r="7.5" fill="#000"/>
<circle cx="1844.8" cy="1178.7" r="7.5" fill="#000"/>
<circle cx="1864.7" cy="1174.0" r="7.5" fill="#000"/>
<circle cx="1884.6" cy="1167.4" r="7.5" fill="#000"/>
<circle cx="1904.5" cy="1158.7" r="7.5" fill="#000"/>
<circle cx="1924.4" cy="1155.1" r="7.5" fill="#000"/>
<circle cx="1944.3" cy="1148.6" r="7.5" fill="#000"/>
<circle cx="1964.2" cy="1146.0" r="7.5" fill="#000"/>
<circle cx="1984.1" cy="1145.7" r="7.5" fill="#000"/>
<circle cx="2004.0" cy="1161.3" r="7.5" fill="#000"/>
<circle cx="2023.9" cy="1190.3" r="7.5" fill="#000"/>
<circle cx="2043.8" cy="1193.2" r="7.5" fill="#000"/>
<circle cx="2063.7" cy="1199.3" r="7.5" fill="#000"/>
<circle cx="2083.6" cy="1201.1" r="7.5" fill="#000"/>
<circle cx="2103.5" cy="1202.9" r="7.5" fill="#000"/>
<polyline points="1645.8,1318.9 1665.7,1318.9 1685.6,1318.9 1705.5,1319.6 1725.4,1320.7 1745.3,1322.5 1765.2,1325.0 1785.1,1327.2 1805.0,1330.8 1824.9,1334.1 1844.8,1338.1 1864.7,1341.3 1884.6,1343.5 1904.5,1344.9 1924.4,1348.6 1944.3,1352.6 1964.2,1353.3 1984.1,1353.3 2004.0,1344.9 2023.9,1332.6 2043.8,1332.3 2063.7,1333.4 2083.6,1331.9 2103.5,1332.3" fill="none" stroke="#000" stroke-width="1.6" stroke-linejoin="miter"/>
<circle cx="1645.8" cy="1318.9" r="6.9" fill="#fff" stroke="#000" stroke-width="1.4"/>
<circle cx="1665.7" cy="1318.9" r="6.9" fill="#fff" stroke="#000" stroke-width="1.4"/>
<circle cx="1685.6" cy="1318.9" r="6.9" fill="#fff" stroke="#000" stroke-width="1.4"/>
<circle cx="1705.5" cy="1319.6" r="6.9" fill="#fff" stroke="#000" stroke-width="1.4"/>
<circle cx="1725.4" cy="1320.7" r="6.9" fill="#fff" stroke="#000" stroke-width="1.4"/>
<circle cx="1745.3" cy="1322.5" r="6.9" fill="#fff" stroke="#000" stroke-width="1.4"/>
<circle cx="1765.2" cy="1325.0" r="6.9" fill="#fff" stroke="#000" stroke-width="1.4"/>
<circle cx="1785.1" cy="1327.2" r="6.9" fill="#fff" stroke="#000" stroke-width="1.4"/>
<circle cx="1805.0" cy="1330.8" r="6.9" fill="#fff" stroke="#000" stroke-width="1.4"/>
<circle cx="1824.9" cy="1334.1" r="6.9" fill="#fff" stroke="#000" stroke-width="1.4"/>
<circle cx="1844.8" cy="1338.1" r="6.9" fill="#fff" stroke="#000" stroke-width="1.4"/>
<circle cx="1864.7" cy="1341.3" r="6.9" fill="#fff" stroke="#000" stroke-width="1.4"/>
<circle cx="1884.6" cy="1343.5" r="6.9" fill="#fff" stroke="#000" stroke-width="1.4"/>
<circle cx="1904.5" cy="1344.9" r="6.9" fill="#fff" stroke="#000" stroke-width="1.4"/>
<circle cx="1924.4" cy="1348.6" r="6.9" fill="#fff" stroke="#000" stroke-width="1.4"/>
<circle cx="1944.3" cy="1352.6" r="6.9" fill="#fff" stroke="#000" stroke-width="1.4"/>
<circle cx="1964.2" cy="1353.3" r="6.9" fill="#fff" stroke="#000" stroke-width="1.4"/>
<circle cx="1984.1" cy="1353.3" r="6.9" fill="#fff" stroke="#000" stroke-width="1.4"/>
<circle cx="2004.0" cy="1344.9" r="6.9" fill="#fff" stroke="#000" stroke-width="1.4"/>
<circle cx="2023.9" cy="1332.6" r="6.9" fill="#fff" stroke="#000" stroke-width="1.4"/>
<circle cx="2043.8" cy="1332.3" r="6.9" fill="#fff" stroke="#000" stroke-width="1.4"/>
<circle cx="2063.7" cy="1333.4" r="6.9" fill="#fff" stroke="#000" stroke-width="1.4"/>
<circle cx="2083.6" cy="1331.9" r="6.9" fill="#fff" stroke="#000" stroke-width="1.4"/>
<circle cx="2103.5" cy="1332.3" r="6.9" fill="#fff" stroke="#000" stroke-width="1.4"/>
<text x="2000.7" y="1082.6" font-size="27">100 µM</text>
<text x="2001.7" y="1115.2" font-size="27">TPPO</text>
<line x1="1985.50" y1="1125.40" x2="2102.60" y2="1125.40" stroke="#e8302a" stroke-width="6.4" stroke-linecap="round"/>
<line x1="1961.70" y1="1406.60" x2="2001.70" y2="1406.60" stroke="#000" stroke-width="1.6" stroke-linecap="butt"/>
<circle cx="1981.7" cy="1406.6" r="7.5" fill="#000"/>
<text x="2024.2" y="1417.2" font-size="30">+100 mV</text>
<line x1="1961.70" y1="1440.30" x2="2001.70" y2="1440.30" stroke="#000" stroke-width="1.6" stroke-linecap="butt"/>
<circle cx="1981.7" cy="1440.3" r="6.9" fill="#fff" stroke="#000" stroke-width="1.4"/>
<text x="2024.2" y="1450.9" font-size="30">-100 mV</text>
<path d="M1720.4,1151.6 A59.3,59.3 0 1 1 1708.2,1140.5" fill="none" stroke="#000" stroke-width="3"/>
<line x1="1708.16" y1="1140.54" x2="1748.36" y2="1096.67" stroke="#000" stroke-width="3" stroke-linecap="butt"/>
<line x1="1720.43" y1="1151.58" x2="1759.61" y2="1108.82" stroke="#000" stroke-width="3" stroke-linecap="butt"/>
<text x="1628.5" y="1184.7" font-size="27">0.3 µM</text>
<text x="1644.1" y="1218.3" font-size="27">Ca<tspan font-size="16.5" dy="-11">2+</tspan></text>
<line x1="106.40" y1="1916.40" x2="640.10" y2="1916.40" stroke="#000" stroke-width="4.5" stroke-linecap="round" stroke-dasharray="0 9.55"/>
<line x1="96.40" y1="1757.20" x2="96.40" y2="2075.60" stroke="#000" stroke-width="3.2" stroke-linecap="butt"/>
<line x1="81.40" y1="1758.80" x2="96.40" y2="1758.80" stroke="#000" stroke-width="3.2" stroke-linecap="butt"/>
<text x="46.0" y="1768.2" font-size="26.5">20</text>
<line x1="81.40" y1="1837.60" x2="96.40" y2="1837.60" stroke="#000" stroke-width="3.2" stroke-linecap="butt"/>
<text x="46.0" y="1847.0" font-size="26.5">10</text>
<line x1="81.40" y1="1916.40" x2="96.40" y2="1916.40" stroke="#000" stroke-width="3.2" stroke-linecap="butt"/>
<text x="60.7" y="1925.8" font-size="26.5">0</text>
<line x1="81.40" y1="1995.20" x2="96.40" y2="1995.20" stroke="#000" stroke-width="3.2" stroke-linecap="butt"/>
<text x="37.1" y="2004.6" font-size="26.5">-10</text>
<line x1="81.40" y1="2074.00" x2="96.40" y2="2074.00" stroke="#000" stroke-width="3.2" stroke-linecap="butt"/>
<text x="37.1" y="2083.4" font-size="26.5">-20</text>
<line x1="145.70" y1="2125.10" x2="645.70" y2="2125.10" stroke="#000" stroke-width="3.2" stroke-linecap="butt"/>
<line x1="147.30" y1="2125.10" x2="147.30" y2="2140.60" stroke="#000" stroke-width="3.2" stroke-linecap="butt"/>
<text x="139.9" y="2165.9" font-size="26.5">0</text>
<line x1="271.50" y1="2125.10" x2="271.50" y2="2140.60" stroke="#000" stroke-width="3.2" stroke-linecap="butt"/>
<text x="256.8" y="2165.9" font-size="26.5">50</text>
<line x1="395.70" y1="2125.10" x2="395.70" y2="2140.60" stroke="#000" stroke-width="3.2" stroke-linecap="butt"/>
<text x="373.6" y="2165.9" font-size="26.5">100</text>
<line x1="519.90" y1="2125.10" x2="519.90" y2="2140.60" stroke="#000" stroke-width="3.2" stroke-linecap="butt"/>
<text x="497.8" y="2165.9" font-size="26.5">150</text>
<line x1="644.10" y1="2125.10" x2="644.10" y2="2140.60" stroke="#000" stroke-width="3.2" stroke-linecap="butt"/>
<text x="622.0" y="2165.9" font-size="26.5">200</text>
<text x="339.7" y="2212.4" font-size="31">Time (s)</text>
<text transform="translate(23.3,1916.4) rotate(-90)" x="-82.5" y="0" font-size="30">Current (nA)</text>
<text x="322.0" y="1669.6" font-size="30.5">H837A</text>
<polyline points="147.3,1907.0 172.1,1899.0 197.0,1890.4 221.8,1879.3 246.7,1865.1 271.5,1848.8 296.3,1832.5 321.2,1818.6 346.0,1812.4 370.9,1813.1 395.7,1813.4 420.5,1820.4 445.4,1887.6 470.2,1885.9 495.1,1884.1 519.9,1880.7 544.7,1878.3 569.6,1876.5" fill="none" stroke="#000" stroke-width="1.6" stroke-linejoin="miter"/>
<circle cx="147.3" cy="1907.0" r="7.5" fill="#000"/>
<circle cx="172.1" cy="1899.0" r="7.5" fill="#000"/>
<circle cx="197.0" cy="1890.4" r="7.5" fill="#000"/>
<circle cx="221.8" cy="1879.3" r="7.5" fill="#000"/>
<circle cx="246.7" cy="1865.1" r="7.5" fill="#000"/>
<circle cx="271.5" cy="1848.8" r="7.5" fill="#000"/>
<circle cx="296.3" cy="1832.5" r="7.5" fill="#000"/>
<circle cx="321.2" cy="1818.6" r="7.5" fill="#000"/>
<circle cx="346.0" cy="1812.4" r="7.5" fill="#000"/>
<circle cx="370.9" cy="1813.1" r="7.5" fill="#000"/>
<circle cx="395.7" cy="1813.4" r="7.5" fill="#000"/>
<circle cx="420.5" cy="1820.4" r="7.5" fill="#000"/>
<circle cx="445.4" cy="1887.6" r="7.5" fill="#000"/>
<circle cx="470.2" cy="1885.9" r="7.5" fill="#000"/>
<circle cx="495.1" cy="1884.1" r="7.5" fill="#000"/>
<circle cx="519.9" cy="1880.7" r="7.5" fill="#000"/>
<circle cx="544.7" cy="1878.3" r="7.5" fill="#000"/>
<circle cx="569.6" cy="1876.5" r="7.5" fill="#000"/>
<polyline points="147.3,1918.8 172.1,1919.2 197.0,1920.6 221.8,1922.3 246.7,1927.8 271.5,1942.4 296.3,1976.4 321.2,2015.2 346.0,2029.1 370.9,2027.3 395.7,2025.6 420.5,2015.2 445.4,1923.3 470.2,1924.0 495.1,1925.1 519.9,1926.8 544.7,1928.5 569.6,1930.3" fill="none" stroke="#000" stroke-width="1.6" stroke-linejoin="miter"/>
<circle cx="147.3" cy="1918.8" r="6.9" fill="#fff" stroke="#000" stroke-width="1.4"/>
<circle cx="172.1" cy="1919.2" r="6.9" fill="#fff" stroke="#000" stroke-width="1.4"/>
<circle cx="197.0" cy="1920.6" r="6.9" fill="#fff" stroke="#000" stroke-width="1.4"/>
<circle cx="221.8" cy="1922.3" r="6.9" fill="#fff" stroke="#000" stroke-width="1.4"/>
<circle cx="246.7" cy="1927.8" r="6.9" fill="#fff" stroke="#000" stroke-width="1.4"/>
<circle cx="271.5" cy="1942.4" r="6.9" fill="#fff" stroke="#000" stroke-width="1.4"/>
<circle cx="296.3" cy="1976.4" r="6.9" fill="#fff" stroke="#000" stroke-width="1.4"/>
<circle cx="321.2" cy="2015.2" r="6.9" fill="#fff" stroke="#000" stroke-width="1.4"/>
<circle cx="346.0" cy="2029.1" r="6.9" fill="#fff" stroke="#000" stroke-width="1.4"/>
<circle cx="370.9" cy="2027.3" r="6.9" fill="#fff" stroke="#000" stroke-width="1.4"/>
<circle cx="395.7" cy="2025.6" r="6.9" fill="#fff" stroke="#000" stroke-width="1.4"/>
<circle cx="420.5" cy="2015.2" r="6.9" fill="#fff" stroke="#000" stroke-width="1.4"/>
<circle cx="445.4" cy="1923.3" r="6.9" fill="#fff" stroke="#000" stroke-width="1.4"/>
<circle cx="470.2" cy="1924.0" r="6.9" fill="#fff" stroke="#000" stroke-width="1.4"/>
<circle cx="495.1" cy="1925.1" r="6.9" fill="#fff" stroke="#000" stroke-width="1.4"/>
<circle cx="519.9" cy="1926.8" r="6.9" fill="#fff" stroke="#000" stroke-width="1.4"/>
<circle cx="544.7" cy="1928.5" r="6.9" fill="#fff" stroke="#000" stroke-width="1.4"/>
<circle cx="569.6" cy="1930.3" r="6.9" fill="#fff" stroke="#000" stroke-width="1.4"/>
<text x="451.4" y="1730.2" font-size="27">100 µM</text>
<text x="452.4" y="1762.8" font-size="27">TPPO</text>
<line x1="422.50" y1="1775.00" x2="568.90" y2="1775.00" stroke="#e8302a" stroke-width="6.4" stroke-linecap="round"/>
<line x1="456.00" y1="2036.00" x2="496.00" y2="2036.00" stroke="#000" stroke-width="1.6" stroke-linecap="butt"/>
<circle cx="476.0" cy="2036.0" r="7.5" fill="#000"/>
<text x="517.2" y="2046.6" font-size="30">+100 mV</text>
<line x1="456.00" y1="2071.70" x2="496.00" y2="2071.70" stroke="#000" stroke-width="1.6" stroke-linecap="butt"/>
<circle cx="476.0" cy="2071.7" r="6.9" fill="#fff" stroke="#000" stroke-width="1.4"/>
<text x="517.2" y="2082.3" font-size="30">-100 mV</text>
<path d="M216.7,1780.9 A59.3,59.3 0 1 1 204.5,1769.8" fill="none" stroke="#000" stroke-width="3"/>
<line x1="204.46" y1="1769.84" x2="244.66" y2="1725.97" stroke="#000" stroke-width="3" stroke-linecap="butt"/>
<line x1="216.73" y1="1780.88" x2="255.91" y2="1738.12" stroke="#000" stroke-width="3" stroke-linecap="butt"/>
<text x="124.8" y="1814.0" font-size="27">0.3 µM</text>
<text x="140.4" y="1847.6" font-size="27">Ca<tspan font-size="16.5" dy="-11">2+</tspan></text>
<line x1="853.20" y1="1948.00" x2="1386.50" y2="1948.00" stroke="#000" stroke-width="4.5" stroke-linecap="round" stroke-dasharray="0 9.55"/>
<line x1="843.20" y1="1755.35" x2="843.20" y2="2077.20" stroke="#000" stroke-width="4.6" stroke-linecap="butt"/>
<line x1="828.20" y1="1757.65" x2="843.20" y2="1757.65" stroke="#000" stroke-width="4.6" stroke-linecap="butt"/>
<text x="807.5" y="1767.1" font-size="26.5">3</text>
<line x1="828.20" y1="1821.10" x2="843.20" y2="1821.10" stroke="#000" stroke-width="4.6" stroke-linecap="butt"/>
<text x="807.5" y="1830.5" font-size="26.5">2</text>
<line x1="828.20" y1="1884.55" x2="843.20" y2="1884.55" stroke="#000" stroke-width="4.6" stroke-linecap="butt"/>
<text x="807.5" y="1894.0" font-size="26.5">1</text>
<line x1="828.20" y1="1948.00" x2="843.20" y2="1948.00" stroke="#000" stroke-width="4.6" stroke-linecap="butt"/>
<text x="807.5" y="1957.4" font-size="26.5">0</text>
<line x1="828.20" y1="2011.45" x2="843.20" y2="2011.45" stroke="#000" stroke-width="4.6" stroke-linecap="butt"/>
<text x="798.6" y="2020.9" font-size="26.5">-1</text>
<line x1="828.20" y1="2074.90" x2="843.20" y2="2074.90" stroke="#000" stroke-width="4.6" stroke-linecap="butt"/>
<text x="798.6" y="2084.3" font-size="26.5">-2</text>
<line x1="891.70" y1="2125.30" x2="1392.80" y2="2125.30" stroke="#000" stroke-width="4.6" stroke-linecap="butt"/>
<line x1="894.00" y1="2125.30" x2="894.00" y2="2140.80" stroke="#000" stroke-width="4.6" stroke-linecap="butt"/>
<text x="886.6" y="2166.1" font-size="26.5">0</text>
<line x1="1059.50" y1="2125.30" x2="1059.50" y2="2140.80" stroke="#000" stroke-width="4.6" stroke-linecap="butt"/>
<text x="1044.8" y="2166.1" font-size="26.5">50</text>
<line x1="1225.00" y1="2125.30" x2="1225.00" y2="2140.80" stroke="#000" stroke-width="4.6" stroke-linecap="butt"/>
<text x="1202.9" y="2166.1" font-size="26.5">100</text>
<line x1="1390.50" y1="2125.30" x2="1390.50" y2="2140.80" stroke="#000" stroke-width="4.6" stroke-linecap="butt"/>
<text x="1368.4" y="2166.1" font-size="26.5">150</text>
<text x="1086.3" y="2212.6" font-size="31">Time (s)</text>
<text transform="translate(780.3,1916.3) rotate(-90)" x="-82.5" y="0" font-size="30">Current (nA)</text>
<text x="1091.7" y="1669.6" font-size="30.5">I838A</text>
<polyline points="894.0,1859.9 927.1,1856.6 960.2,1851.9 993.3,1848.3 1026.4,1844.7 1059.5,1838.9 1092.6,1841.8 1125.7,1842.5 1158.8,1842.1 1191.9,1847.2 1225.0,1892.5 1258.1,1890.0 1291.2,1888.9" fill="none" stroke="#000" stroke-width="1.6" stroke-linejoin="miter"/>
<circle cx="894.0" cy="1859.9" r="7.5" fill="#000"/>
<circle cx="927.1" cy="1856.6" r="7.5" fill="#000"/>
<circle cx="960.2" cy="1851.9" r="7.5" fill="#000"/>
<circle cx="993.3" cy="1848.3" r="7.5" fill="#000"/>
<circle cx="1026.4" cy="1844.7" r="7.5" fill="#000"/>
<circle cx="1059.5" cy="1838.9" r="7.5" fill="#000"/>
<circle cx="1092.6" cy="1841.8" r="7.5" fill="#000"/>
<circle cx="1125.7" cy="1842.5" r="7.5" fill="#000"/>
<circle cx="1158.8" cy="1842.1" r="7.5" fill="#000"/>
<circle cx="1191.9" cy="1847.2" r="7.5" fill="#000"/>
<circle cx="1225.0" cy="1892.5" r="7.5" fill="#000"/>
<circle cx="1258.1" cy="1890.0" r="7.5" fill="#000"/>
<circle cx="1291.2" cy="1888.9" r="7.5" fill="#000"/>
<polyline points="894.0,1982.6 927.1,1982.6 960.2,1988.7 993.3,1991.6 1026.4,1994.9 1059.5,2000.3 1092.6,2000.3 1125.7,2005.8 1158.8,2006.8 1191.9,2000.3 1225.0,1964.4 1258.1,1965.9 1291.2,1965.9" fill="none" stroke="#000" stroke-width="1.6" stroke-linejoin="miter"/>
<circle cx="894.0" cy="1982.6" r="6.9" fill="#fff" stroke="#000" stroke-width="1.4"/>
<circle cx="927.1" cy="1982.6" r="6.9" fill="#fff" stroke="#000" stroke-width="1.4"/>
<circle cx="960.2" cy="1988.7" r="6.9" fill="#fff" stroke="#000" stroke-width="1.4"/>
<circle cx="993.3" cy="1991.6" r="6.9" fill="#fff" stroke="#000" stroke-width="1.4"/>
<circle cx="1026.4" cy="1994.9" r="6.9" fill="#fff" stroke="#000" stroke-width="1.4"/>
<circle cx="1059.5" cy="2000.3" r="6.9" fill="#fff" stroke="#000" stroke-width="1.4"/>
<circle cx="1092.6" cy="2000.3" r="6.9" fill="#fff" stroke="#000" stroke-width="1.4"/>
<circle cx="1125.7" cy="2005.8" r="6.9" fill="#fff" stroke="#000" stroke-width="1.4"/>
<circle cx="1158.8" cy="2006.8" r="6.9" fill="#fff" stroke="#000" stroke-width="1.4"/>
<circle cx="1191.9" cy="2000.3" r="6.9" fill="#fff" stroke="#000" stroke-width="1.4"/>
<circle cx="1225.0" cy="1964.4" r="6.9" fill="#fff" stroke="#000" stroke-width="1.4"/>
<circle cx="1258.1" cy="1965.9" r="6.9" fill="#fff" stroke="#000" stroke-width="1.4"/>
<circle cx="1291.2" cy="1965.9" r="6.9" fill="#fff" stroke="#000" stroke-width="1.4"/>
<text x="1199.2" y="1749.4" font-size="27">100 µM</text>
<text x="1200.2" y="1782.0" font-size="27">TPPO</text>
<line x1="1193.50" y1="1790.70" x2="1290.20" y2="1790.70" stroke="#e8302a" stroke-width="6.4" stroke-linecap="round"/>
<line x1="1203.70" y1="2047.40" x2="1243.70" y2="2047.40" stroke="#000" stroke-width="1.6" stroke-linecap="butt"/>
<circle cx="1223.7" cy="2047.4" r="7.5" fill="#000"/>
<text x="1265.5" y="2058.0" font-size="30">+100 mV</text>
<line x1="1203.70" y1="2081.90" x2="1243.70" y2="2081.90" stroke="#000" stroke-width="1.6" stroke-linecap="butt"/>
<circle cx="1223.7" cy="2081.9" r="6.9" fill="#fff" stroke="#000" stroke-width="1.4"/>
<text x="1265.5" y="2092.5" font-size="30">-100 mV</text>
<path d="M970.3,1737.6 A59.3,59.3 0 1 1 958.1,1726.5" fill="none" stroke="#000" stroke-width="3"/>
<line x1="958.06" y1="1726.54" x2="998.26" y2="1682.67" stroke="#000" stroke-width="3" stroke-linecap="butt"/>
<line x1="970.33" y1="1737.58" x2="1009.51" y2="1694.82" stroke="#000" stroke-width="3" stroke-linecap="butt"/>
<text x="878.4" y="1770.7" font-size="27">0.3 µM</text>
<text x="894.0" y="1804.3" font-size="27">Ca<tspan font-size="16.5" dy="-11">2+</tspan></text>
</svg></body></html>
